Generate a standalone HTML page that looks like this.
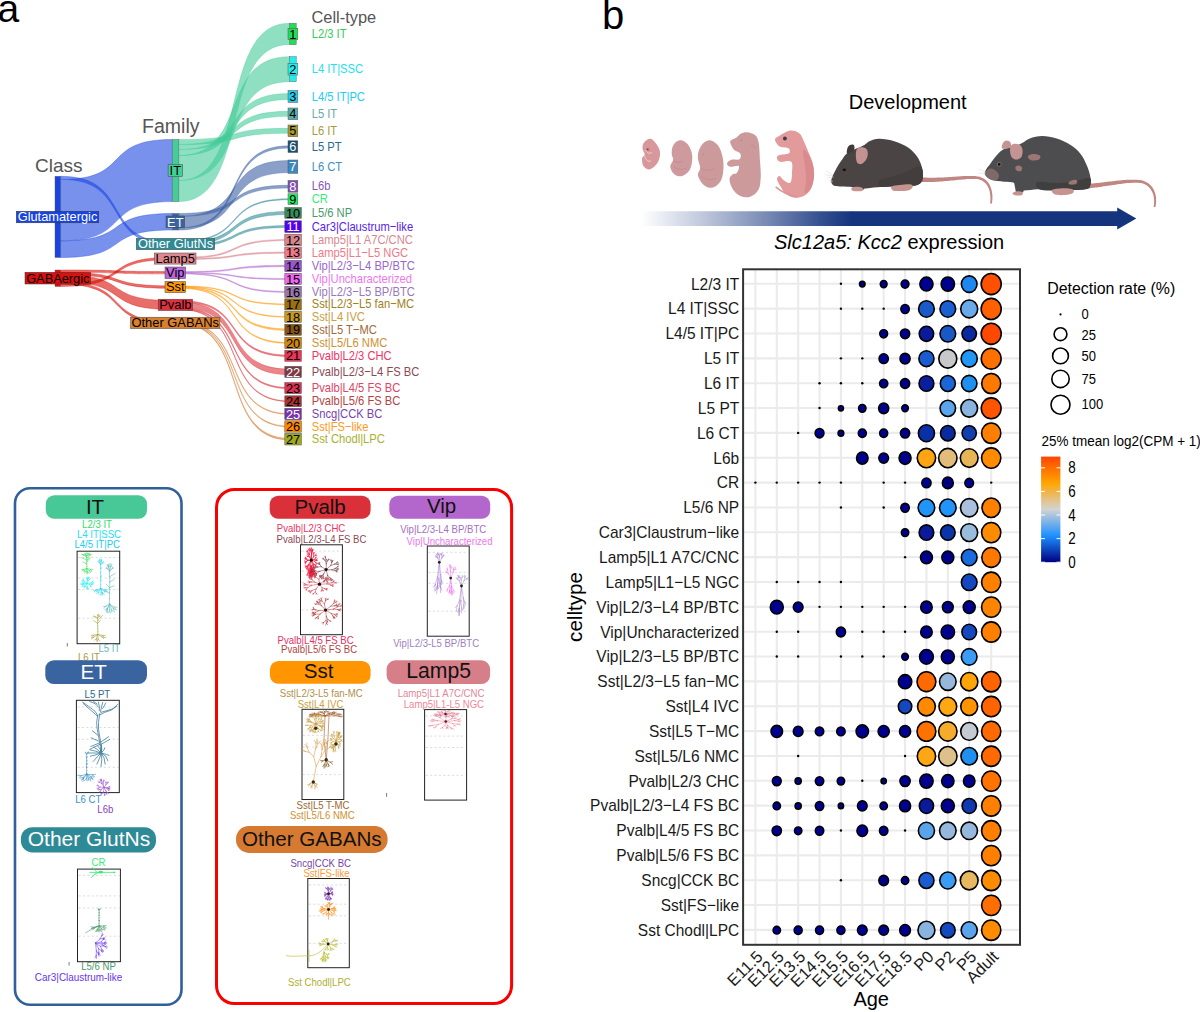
<!DOCTYPE html>
<html><head><meta charset="utf-8"><style>html,body{margin:0;padding:0;background:#fff;}svg{display:block;font-family:"Liberation Sans",sans-serif;}</style></head><body>
<svg width="1200" height="1012" viewBox="0 0 1200 1012">
<rect width="1200" height="1012" fill="#fff"/>
<text x="-2.4" y="22" font-size="39" fill="#000">a</text>
<text x="601.9" y="28.8" font-size="40" fill="#000">b</text>
<text x="907.7" y="109.4" font-size="20" text-anchor="middle" fill="#000">Development</text>
<defs><linearGradient id="arr" x1="641" y1="0" x2="852" y2="0" gradientUnits="userSpaceOnUse"><stop offset="0" stop-color="#14347E" stop-opacity="0"/><stop offset="0.3" stop-color="#14347E" stop-opacity="0.28"/><stop offset="0.6" stop-color="#14347E" stop-opacity="0.58"/><stop offset="0.85" stop-color="#14347E" stop-opacity="0.86"/><stop offset="1" stop-color="#14347E" stop-opacity="1"/></linearGradient></defs>
<path d="M641,211.2 H852 V226 H641 Z" fill="url(#arr)"/>
<path d="M851.5,211.2 H1117.2 V207.5 L1136.3,218.6 L1117.2,229.6 V226 H851.5 Z" fill="#14347E"/>
<text x="774" y="249.2" font-size="20" fill="#000"><tspan font-style="italic">Slc12a5: Kcc2</tspan> expression</text>
<path d="M650.0,138.8 C651.9,138.8 653.6,140.5 655.2,142.5 C656.9,144.5 659.1,147.9 659.8,150.8 C660.4,153.6 659.9,157.1 659.0,159.8 C658.1,162.4 656.2,164.9 654.5,166.5 C652.8,168.1 650.4,169.6 648.5,169.5 C646.6,169.4 644.3,167.6 643.2,165.8 C642.2,163.9 641.9,160.1 642.1,158.2 C642.4,156.4 644.7,156.1 644.8,154.5 C644.8,152.9 642.6,150.5 642.5,148.5 C642.4,146.5 642.8,144.1 644.0,142.5 C645.2,140.9 648.1,138.8 650.0,138.8 Z" fill="#D8979B"/>
<path d="M645.5,150 C647,153 649,154 652,152.5 M644.5,156 C646,160 648,162 651,161" stroke="#F0D0D2" stroke-width="1" fill="none"/>
<circle cx="647.7" cy="149.5" r="1.8" fill="#CF7C84"/><circle cx="647.8" cy="149.2" r="0.7" fill="#442"/>
<path d="M681.5,140.2 C683.4,140.6 685.8,142.0 687.5,144.0 C689.2,146.0 690.9,149.2 691.6,152.2 C692.4,155.2 692.4,158.9 692.0,162.0 C691.6,165.1 690.8,168.6 689.0,171.0 C687.2,173.4 684.0,175.8 681.5,176.2 C679.0,176.8 675.9,175.6 674.0,174.0 C672.1,172.4 670.4,168.9 670.2,166.5 C670.1,164.1 673.0,161.8 673.2,159.8 C673.5,157.8 671.9,156.6 671.8,154.5 C671.6,152.4 671.8,149.1 672.5,147.0 C673.2,144.9 674.8,142.9 676.2,141.8 C677.8,140.6 679.6,139.9 681.5,140.2 Z" fill="#CF9A9D"/>
<path d="M673.5,160 C676,163 680,163 683,161 M674,167 C678,170 683,170 686,168" stroke="#C28A8E" stroke-width="0.8" fill="none"/>
<path d="M710.0,140.2 C712.4,140.5 715.5,142.4 717.5,144.8 C719.5,147.1 721.0,150.9 722.0,154.5 C723.0,158.1 723.6,162.2 723.5,166.5 C723.4,170.8 723.0,176.5 721.2,180.0 C719.5,183.5 715.9,186.6 713.0,187.5 C710.1,188.4 706.5,187.2 704.0,185.2 C701.5,183.2 698.6,178.4 698.0,175.5 C697.4,172.6 700.2,170.8 700.2,168.0 C700.2,165.2 698.2,161.9 698.0,159.0 C697.8,156.1 697.9,153.4 698.8,150.8 C699.6,148.1 701.4,145.0 703.2,143.2 C705.1,141.5 707.6,140.0 710.0,140.2 Z" fill="#CD9A9C"/>
<path d="M700.5,168 C705,171 710,171 714,168 M701,176 C705,180 711,181 716,178" stroke="#C08A8E" stroke-width="0.8" fill="none"/>
<circle cx="703.5" cy="154.5" r="1.1" fill="#C08A8E"/>
<path d="M747.0,132.2 C749.4,132.5 753.3,133.5 755.3,135.2 C757.2,136.9 757.9,138.7 758.7,142.7 C759.5,146.7 759.6,153.8 759.9,159.3 C760.2,164.9 761.0,171.0 760.8,176.0 C760.5,181.0 760.4,185.8 758.7,189.3 C757.0,192.8 753.4,195.7 750.3,196.8 C747.2,197.9 743.2,197.2 740.3,196.0 C737.4,194.8 734.6,192.1 732.8,189.3 C731.0,186.5 729.5,181.8 729.5,179.3 C729.5,176.8 731.5,175.4 732.8,174.3 C734.0,173.2 736.0,174.1 737.0,172.7 C738.0,171.3 739.8,167.0 738.7,166.0 C737.6,165.0 732.2,167.2 730.3,166.8 C728.3,166.4 726.9,164.7 727.0,163.5 C727.1,162.3 729.1,160.4 731.2,159.8 C733.3,159.1 738.0,160.3 739.5,159.3 C741.0,158.3 741.1,155.0 740.3,153.5 C739.5,152.0 735.9,151.3 734.5,150.2 C733.1,149.1 732.7,148.3 732.0,146.8 C731.3,145.3 729.6,142.5 730.3,141.0 C731.0,139.5 734.4,138.9 736.2,137.7 C738.0,136.4 739.4,134.4 741.2,133.5 C743.0,132.6 744.6,132.0 747.0,132.2 Z" fill="#CD9A9C"/>
<circle cx="741.5" cy="140.5" r="1.1" fill="#B88A8E"/>
<path d="M751,144 C753,146 755,147 756,149" stroke="#B88A8E" stroke-width="0.7" fill="none"/>
<path d="M790.3,130.6 C793.5,130.3 797.1,131.5 799.5,133.5 C801.9,135.5 803.0,139.5 804.5,142.7 C806.0,145.9 807.3,149.2 808.7,152.7 C810.1,156.2 811.9,159.6 812.8,163.5 C813.7,167.4 814.4,171.8 814.1,176.0 C813.8,180.2 812.9,185.2 811.2,188.5 C809.5,191.8 806.5,194.5 803.7,196.0 C800.9,197.5 797.5,198.0 794.5,197.7 C791.5,197.4 788.4,195.9 786.0,194.0 C783.6,192.1 781.8,188.4 780.3,186.0 C778.8,183.6 777.1,181.0 777.0,179.3 C776.9,177.6 778.4,175.8 779.5,176.0 C780.6,176.2 781.9,179.1 783.7,180.2 C785.5,181.3 788.9,183.9 790.3,182.7 C791.7,181.4 791.9,176.2 792.0,172.7 C792.1,169.2 793.2,163.6 791.2,161.8 C789.2,160.0 782.7,162.4 780.3,161.8 C777.9,161.2 777.3,159.6 777.0,158.5 C776.7,157.4 776.8,156.0 778.7,155.2 C780.7,154.4 787.0,154.6 788.7,153.5 C790.4,152.4 790.1,149.6 788.7,148.5 C787.3,147.4 782.4,147.8 780.3,146.8 C778.2,145.8 777.0,144.1 776.2,142.7 C775.4,141.3 774.6,139.8 775.3,138.5 C776.0,137.2 777.8,136.5 780.3,135.2 C782.8,133.9 787.1,130.9 790.3,130.6 Z" fill="#E29A9B"/>
<path d="M803.0,150.0 C803.6,148.3 807.1,152.5 808.7,155.0 C810.3,157.5 811.9,161.5 812.8,165.0 C813.7,168.5 814.3,172.2 814.0,176.0 C813.7,179.8 812.5,185.2 811.0,188.0 C809.5,190.8 805.8,194.3 805.0,193.0 C804.2,191.7 806.0,184.7 806.0,180.0 C806.0,175.3 805.5,170.0 805.0,165.0 C804.5,160.0 802.4,151.7 803.0,150.0 Z" fill="#D98A8C"/>
<path d="M797,196.5 C790,195.5 782,192 776.2,187.3" stroke="#DD9496" stroke-width="1.6" fill="none" stroke-linecap="round"/>
<circle cx="784.9" cy="138.5" r="1.9" fill="#3A3A5A"/>
<path d="M919.8,181.8 L921.9,181.9 L923.9,182.0 L925.9,182.0 L928.0,182.0 L930.0,182.0 L932.0,181.9 L934.0,181.9 L936.0,181.8 L938.0,181.7 L939.9,181.5 L941.9,181.4 L943.8,181.2 L945.7,181.1 L947.6,180.9 L949.5,180.7 L951.4,180.5 L953.2,180.4 L955.1,180.2 L956.9,180.0 L958.7,179.8 L960.4,179.7 L962.1,179.5 L963.8,179.4 L965.5,179.3 L967.2,179.1 L968.8,179.1 L970.4,179.0 L971.9,178.9 L973.5,178.9 L974.9,178.9 L976.1,179.0 L977.3,179.1 L978.3,179.3 L979.4,179.6 L980.3,179.9 L981.3,180.3 L982.2,180.7 L983.0,181.2 L983.8,181.8 L984.5,182.4 L985.2,183.1 L985.9,183.8 L986.5,184.5 L987.1,185.3 L987.6,186.2 L988.1,187.1 L988.5,188.0 L988.9,189.0 L989.3,190.1 L989.6,191.1 L989.8,192.2 L990.0,193.4 L990.2,194.5 L990.3,195.7 L990.4,196.9 L990.4,198.2 L990.4,199.5 L990.4,200.7 L990.3,202.1 L990.1,203.4 L991.9,203.6 L992.1,202.3 L992.2,200.9 L992.4,199.5 L992.4,198.2 L992.4,196.9 L992.4,195.6 L992.3,194.3 L992.1,193.1 L991.9,191.8 L991.7,190.6 L991.4,189.4 L991.0,188.3 L990.6,187.2 L990.2,186.1 L989.7,185.1 L989.1,184.1 L988.5,183.1 L987.8,182.2 L987.0,181.3 L986.2,180.5 L985.4,179.8 L984.4,179.1 L983.5,178.5 L982.4,177.9 L981.3,177.4 L980.2,177.0 L979.0,176.6 L977.7,176.4 L976.4,176.2 L975.1,176.1 L973.5,176.0 L971.9,176.0 L970.3,176.0 L968.7,176.0 L967.0,176.0 L965.4,176.1 L963.6,176.1 L961.9,176.2 L960.2,176.3 L958.4,176.4 L956.6,176.5 L954.8,176.7 L952.9,176.8 L951.1,176.9 L949.2,177.0 L947.3,177.2 L945.5,177.3 L943.5,177.4 L941.6,177.5 L939.7,177.5 L937.8,177.6 L935.8,177.7 L933.9,177.7 L931.9,177.7 L930.0,177.7 L928.0,177.7 L926.1,177.6 L924.1,177.5 L922.1,177.4 L920.2,177.2 Z" fill="#C08682"/>
<path d="M831.1,181.6 C830.9,180.1 831.8,178.4 832.5,176.5 C833.2,174.6 834.4,172.3 835.5,170.2 C836.6,168.1 837.8,165.9 839.0,164.0 C840.2,162.1 841.2,160.6 842.5,158.9 C843.8,157.2 844.9,155.2 846.9,153.6 C848.9,152.0 851.8,150.6 854.7,149.2 C857.6,147.8 861.9,146.3 864.4,144.9 C866.9,143.5 867.5,142.0 870.0,141.0 C872.5,140.0 875.0,138.7 879.2,138.8 C883.4,138.8 890.2,139.9 895.0,141.4 C899.8,142.9 904.5,145.0 908.1,147.5 C911.8,150.0 914.7,153.3 916.9,156.2 C919.1,159.1 920.2,162.1 921.2,165.0 C922.2,167.9 923.0,170.8 923.0,173.7 C923.0,176.6 923.0,180.4 921.2,182.5 C919.5,184.6 917.5,185.3 912.5,186.0 C907.5,186.7 897.3,186.3 891.5,186.5 C885.7,186.7 882.4,186.9 877.5,187.2 C872.6,187.5 866.6,188.6 862.0,188.5 C857.4,188.4 853.7,187.1 850.0,186.8 C846.3,186.5 842.7,186.7 840.0,186.5 C837.3,186.3 835.2,186.3 833.7,185.5 C832.2,184.7 831.3,183.1 831.1,181.6 Z" fill="#4A4544"/>
<path d="M880.0,180.0 C882.5,178.2 890.0,177.7 895.0,176.0 C900.0,174.3 905.8,171.7 910.0,170.0 C914.2,168.3 917.8,165.3 920.0,166.0 C922.2,166.7 922.8,171.2 923.0,174.0 C923.2,176.8 922.8,180.5 921.0,182.5 C919.2,184.5 916.8,185.3 912.0,186.0 C907.2,186.7 897.3,186.4 892.0,186.5 C886.7,186.6 882.0,187.6 880.0,186.5 C878.0,185.4 877.5,181.8 880.0,180.0 Z" fill="#433E3D"/>
<path d="M847.2,153.5 C846.3,153.0 847.0,149.4 847.5,148.0 C848.0,146.6 849.0,145.5 850.0,145.0 C851.0,144.5 852.8,144.3 853.5,144.8 C854.2,145.3 854.6,147.0 854.5,148.0 C854.4,149.0 854.2,150.1 853.0,151.0 C851.8,151.9 848.1,154.0 847.2,153.5 Z" fill="#3E3A39"/>
<path d="M856.0,152.0 C856.2,150.4 856.6,149.3 857.5,148.5 C858.4,147.7 860.1,147.2 861.5,147.2 C862.9,147.2 865.0,147.5 866.0,148.5 C867.0,149.5 867.7,151.2 867.8,153.0 C867.9,154.8 867.5,157.2 866.5,159.0 C865.5,160.8 863.5,163.1 862.0,163.8 C860.5,164.5 858.5,164.0 857.5,163.0 C856.5,162.0 856.2,159.8 856.0,158.0 C855.8,156.2 855.8,153.6 856.0,152.0 Z" fill="#C29391"/>
<ellipse cx="844.3" cy="169.8" rx="1.7" ry="1.4" fill="#151212"/>
<path d="M857,182 L866,182 L864,189.5 L858,189.5 Z" fill="#4A4544"/>
<path d="M852.0,187.5 C853.0,186.9 856.2,186.7 858.0,186.8 C859.8,186.9 861.8,187.3 862.5,188.0 C863.2,188.7 863.6,190.2 862.5,190.8 C861.4,191.4 857.8,191.4 856.0,191.3 C854.2,191.2 852.7,191.1 852.0,190.5 C851.3,189.9 851.0,188.1 852.0,187.5 Z" fill="#C69490"/>
<path d="M891.5,186.5 C892.7,185.6 896.8,185.3 900.0,185.0 C903.2,184.7 908.9,184.1 911.0,184.5 C913.1,184.9 913.0,186.5 912.5,187.5 C912.0,188.5 910.2,189.9 908.0,190.5 C905.8,191.1 901.5,191.0 899.0,191.0 C896.5,191.0 894.2,191.2 893.0,190.5 C891.8,189.8 890.3,187.4 891.5,186.5 Z" fill="#C69490"/>
<circle cx="831.5" cy="181.4" r="1.1" fill="#C69490"/>
<path d="M833,175 L826,171 M833,176 L825,174.5 M834,177 L827,178" stroke="#ccc" stroke-width="0.4"/>
<path d="M1088.2,188.3 L1089.9,188.2 L1091.6,188.0 L1093.4,187.8 L1095.2,187.6 L1097.0,187.4 L1098.8,187.1 L1100.6,186.9 L1102.4,186.6 L1104.2,186.3 L1106.0,186.0 L1107.8,185.8 L1109.6,185.5 L1111.4,185.2 L1113.2,184.9 L1115.0,184.7 L1116.8,184.4 L1118.6,184.1 L1120.3,183.9 L1122.1,183.7 L1123.8,183.5 L1125.5,183.3 L1127.2,183.1 L1128.9,183.0 L1130.5,182.9 L1132.2,182.8 L1133.8,182.8 L1135.3,182.8 L1136.9,182.8 L1138.4,182.8 L1139.8,182.9 L1140.9,183.1 L1142.0,183.3 L1143.0,183.6 L1143.9,183.9 L1144.8,184.3 L1145.7,184.7 L1146.5,185.2 L1147.3,185.8 L1148.0,186.4 L1148.8,187.0 L1149.4,187.7 L1150.0,188.4 L1150.6,189.2 L1151.1,190.0 L1151.6,190.9 L1152.1,191.7 L1152.5,192.7 L1152.9,193.6 L1153.2,194.6 L1153.5,195.6 L1153.7,196.7 L1153.9,197.7 L1154.0,198.8 L1154.1,199.9 L1154.1,201.0 L1154.1,202.2 L1154.1,203.3 L1154.0,204.5 L1153.8,205.6 L1153.6,206.8 L1155.4,207.2 L1155.6,206.0 L1155.8,204.7 L1156.0,203.5 L1156.1,202.3 L1156.1,201.0 L1156.1,199.8 L1156.1,198.6 L1156.0,197.5 L1155.8,196.3 L1155.6,195.1 L1155.3,194.0 L1155.0,192.9 L1154.6,191.8 L1154.2,190.8 L1153.7,189.8 L1153.2,188.8 L1152.6,187.8 L1152.0,186.9 L1151.3,186.0 L1150.5,185.2 L1149.7,184.4 L1148.9,183.7 L1148.0,183.0 L1147.0,182.4 L1146.0,181.9 L1144.9,181.4 L1143.8,180.9 L1142.7,180.6 L1141.4,180.3 L1140.2,180.1 L1138.6,179.9 L1137.0,179.8 L1135.4,179.7 L1133.7,179.7 L1132.1,179.7 L1130.4,179.7 L1128.7,179.8 L1127.0,179.8 L1125.2,179.9 L1123.5,180.1 L1121.7,180.2 L1119.9,180.4 L1118.1,180.6 L1116.3,180.8 L1114.5,181.0 L1112.7,181.2 L1110.9,181.4 L1109.1,181.6 L1107.2,181.8 L1105.4,182.1 L1103.6,182.3 L1101.8,182.5 L1100.0,182.7 L1098.2,182.9 L1096.5,183.1 L1094.7,183.2 L1093.0,183.4 L1091.2,183.5 L1089.5,183.6 L1087.8,183.7 Z" fill="#C08682"/>
<path d="M985.3,175.0 C984.3,173.4 984.8,172.1 985.7,170.2 C986.6,168.3 988.6,166.1 990.5,163.5 C992.4,160.9 995.0,157.2 997.2,154.8 C999.5,152.4 1001.1,150.5 1004.0,149.1 C1006.9,147.7 1011.3,147.3 1014.5,146.2 C1017.7,145.1 1020.6,143.7 1023.1,142.4 C1025.7,141.1 1026.6,139.6 1029.8,138.5 C1033.0,137.4 1037.8,136.1 1042.3,136.1 C1046.8,136.1 1051.9,137.0 1056.7,138.5 C1061.5,140.0 1067.0,142.6 1071.0,145.2 C1075.0,147.8 1078.0,150.7 1080.6,153.9 C1083.2,157.1 1084.8,160.7 1086.4,164.4 C1088.0,168.1 1089.6,172.4 1090.2,175.9 C1090.8,179.4 1091.0,183.3 1090.2,185.5 C1089.4,187.7 1088.8,188.5 1085.4,189.3 C1082.0,190.1 1075.6,190.1 1070.0,190.3 C1064.4,190.5 1057.3,190.5 1051.9,190.3 C1046.5,190.1 1042.6,189.3 1037.5,189.3 C1032.4,189.3 1025.0,191.4 1021.2,190.3 C1017.4,189.2 1017.4,184.4 1014.5,183.0 C1011.6,181.6 1007.8,182.2 1004.0,181.7 C1000.2,181.1 994.6,180.8 991.5,179.7 C988.4,178.6 986.3,176.6 985.3,175.0 Z" fill="#4D4D4F"/>
<path d="M1037.5,182.0 C1040.8,180.9 1052.9,183.3 1060.0,183.0 C1067.1,182.7 1075.0,180.8 1080.0,180.0 C1085.0,179.2 1088.3,177.1 1090.0,178.0 C1091.7,178.9 1091.0,183.6 1090.2,185.5 C1089.4,187.4 1090.4,188.5 1085.4,189.3 C1080.4,190.1 1067.6,190.3 1060.0,190.3 C1052.4,190.3 1043.8,190.9 1040.0,189.5 C1036.2,188.1 1034.2,183.1 1037.5,182.0 Z" fill="#403F3F"/>
<path d="M985.3,175.0 C984.5,173.5 985.7,172.1 986.5,171.0 C987.3,169.9 988.6,168.7 990.0,168.5 C991.4,168.3 993.5,168.9 995.0,170.0 C996.5,171.1 998.7,173.4 999.0,175.0 C999.3,176.6 998.3,179.0 997.0,179.8 C995.7,180.6 993.0,180.6 991.0,179.8 C989.0,179.0 986.0,176.5 985.3,175.0 Z" fill="#7E6A68"/>
<path d="M1002.2,148.5 C1001.0,147.8 1002.3,144.3 1003.0,143.0 C1003.7,141.7 1005.2,140.6 1006.5,140.5 C1007.8,140.4 1009.9,141.3 1010.5,142.5 C1011.1,143.7 1011.6,146.5 1010.2,147.5 C1008.8,148.5 1003.4,149.2 1002.2,148.5 Z" fill="#C39491"/>
<path d="M1010.0,150.0 C1010.0,148.0 1010.5,146.0 1011.5,145.0 C1012.5,144.0 1014.4,143.6 1016.0,143.8 C1017.6,144.0 1019.9,144.7 1021.0,146.0 C1022.1,147.3 1022.6,149.6 1022.6,151.5 C1022.6,153.4 1022.1,156.2 1021.0,157.5 C1019.9,158.8 1017.6,159.7 1016.0,159.6 C1014.4,159.5 1012.5,158.6 1011.5,157.0 C1010.5,155.4 1010.0,152.0 1010.0,150.0 Z" fill="#C39491"/>
<ellipse cx="999.2" cy="164.4" rx="2.4" ry="2.1" fill="#8E7470"/><ellipse cx="999.2" cy="164.4" rx="1.5" ry="1.4" fill="#111"/>
<path d="M1028.0,156.0 C1028.7,155.2 1031.0,154.1 1033.0,154.0 C1035.0,153.9 1039.0,154.6 1040.0,155.5 C1041.0,156.4 1040.2,158.7 1039.0,159.5 C1037.8,160.3 1034.7,160.7 1033.0,160.6 C1031.3,160.5 1029.8,159.8 1029.0,159.0 C1028.2,158.2 1027.3,156.8 1028.0,156.0 Z" fill="#9C7672"/>
<path d="M1015.5,167.0 C1015.9,166.2 1017.9,165.3 1019.0,165.4 C1020.1,165.5 1021.7,166.6 1022.0,167.5 C1022.3,168.4 1021.9,170.5 1021.0,171.0 C1020.1,171.5 1017.4,171.2 1016.5,170.5 C1015.6,169.8 1015.1,167.8 1015.5,167.0 Z" fill="#9C7672"/>
<path d="M1068.6,182.5 C1069.1,181.8 1071.6,180.3 1073.0,180.0 C1074.4,179.7 1076.5,179.8 1077.0,180.5 C1077.5,181.2 1077.2,183.3 1076.0,184.0 C1074.8,184.7 1071.2,184.8 1070.0,184.5 C1068.8,184.2 1068.1,183.2 1068.6,182.5 Z" fill="#9C7672"/>
<path d="M1014,182 L1026,183 L1023,192.5 L1016,192.5 Z" fill="#4D4D4F"/>
<path d="M1012.6,193.0 C1012.9,192.3 1015.4,191.4 1017.0,191.2 C1018.6,191.0 1021.4,191.4 1022.2,192.0 C1023.0,192.6 1023.2,194.4 1022.0,195.0 C1020.8,195.6 1016.6,195.6 1015.0,195.3 C1013.4,195.0 1012.3,193.7 1012.6,193.0 Z" fill="#C69490"/>
<path d="M1051.9,190.0 C1052.7,189.0 1056.7,188.6 1060.0,188.4 C1063.3,188.2 1069.8,188.2 1072.0,189.0 C1074.2,189.8 1074.2,192.0 1073.0,193.0 C1071.8,194.0 1068.0,194.8 1065.0,195.0 C1062.0,195.2 1057.2,195.3 1055.0,194.5 C1052.8,193.7 1051.1,191.0 1051.9,190.0 Z" fill="#C69490"/>
<path d="M986,172 L979,169 M986,173 L978,173.5" stroke="#ccc" stroke-width="0.4"/>
<path d="M60.60,179.50 C133.21,179.50 99.69,139.50 172.30,139.50 L172.30,201.60 C99.69,201.60 133.21,240.80 60.60,240.80 Z" fill="#1A44E0" fill-opacity="0.59" stroke="#1A44E0" stroke-opacity="0.59" stroke-width="0.6"/>
<path d="M60.60,240.80 C133.21,240.80 99.69,213.50 172.30,213.50 L172.30,230.00 C99.69,230.00 133.21,257.50 60.60,257.50 Z" fill="#1A44E0" fill-opacity="0.59" stroke="#1A44E0" stroke-opacity="0.59" stroke-width="0.6"/>
<path d="M60.60,176.30 C133.21,176.30 99.69,242.50 172.30,242.50 L172.30,245.50 C99.69,245.50 133.21,179.30 60.60,179.30 Z" fill="#1A44E0" fill-opacity="0.59" stroke="#1A44E0" stroke-opacity="0.59" stroke-width="0.6"/>
<path d="M60.60,270.00 C133.21,270.00 99.69,271.60 172.30,271.60 L172.30,273.90 C99.69,273.90 133.21,272.30 60.60,272.30 Z" fill="#D80800" fill-opacity="0.59" stroke="#D80800" stroke-opacity="0.59" stroke-width="0.6"/>
<path d="M60.60,272.30 C133.21,272.30 99.69,285.90 172.30,285.90 L172.30,288.30 C99.69,288.30 133.21,274.70 60.60,274.70 Z" fill="#D80800" fill-opacity="0.59" stroke="#D80800" stroke-opacity="0.59" stroke-width="0.6"/>
<path d="M60.60,274.70 C133.21,274.70 99.69,300.60 172.30,300.60 L172.30,309.50 C99.69,309.50 133.21,282.00 60.60,282.00 Z" fill="#D80800" fill-opacity="0.59" stroke="#D80800" stroke-opacity="0.59" stroke-width="0.6"/>
<path d="M60.60,282.00 C133.21,282.00 99.69,321.80 172.30,321.80 L172.30,324.00 C99.69,324.00 133.21,284.20 60.60,284.20 Z" fill="#D80800" fill-opacity="0.59" stroke="#D80800" stroke-opacity="0.59" stroke-width="0.6"/>
<path d="M60.60,284.20 C133.21,284.20 99.69,257.30 172.30,257.30 L172.30,259.60 C99.69,259.60 133.21,286.50 60.60,286.50 Z" fill="#D80800" fill-opacity="0.59" stroke="#D80800" stroke-opacity="0.59" stroke-width="0.6"/>
<path d="M178.80,139.50 C250.75,139.50 217.55,128.35 289.50,128.35 L289.50,133.35 C217.55,133.35 250.75,144.50 178.80,144.50 Z" fill="#41CA98" fill-opacity="0.59" stroke="#41CA98" stroke-opacity="0.59" stroke-width="0.6"/>
<path d="M178.80,144.50 C250.75,144.50 217.55,111.35 289.50,111.35 L289.50,116.35 C217.55,116.35 250.75,149.50 178.80,149.50 Z" fill="#41CA98" fill-opacity="0.59" stroke="#41CA98" stroke-opacity="0.59" stroke-width="0.6"/>
<path d="M178.80,149.50 C250.75,149.50 217.55,93.50 289.50,93.50 L289.50,99.50 C217.55,99.50 250.75,155.50 178.80,155.50 Z" fill="#41CA98" fill-opacity="0.59" stroke="#41CA98" stroke-opacity="0.59" stroke-width="0.6"/>
<path d="M178.80,155.50 C250.75,155.50 217.55,56.70 289.50,56.70 L289.50,81.70 C217.55,81.70 250.75,180.50 178.80,180.50 Z" fill="#41CA98" fill-opacity="0.59" stroke="#41CA98" stroke-opacity="0.59" stroke-width="0.6"/>
<path d="M178.80,180.50 C250.75,180.50 217.55,23.30 289.50,23.30 L289.50,44.40 C217.55,44.40 250.75,201.60 178.80,201.60 Z" fill="#41CA98" fill-opacity="0.59" stroke="#41CA98" stroke-opacity="0.59" stroke-width="0.6"/>
<path d="M178.80,213.50 C250.75,213.50 217.55,185.30 289.50,185.30 L289.50,188.10 C217.55,188.10 250.75,216.30 178.80,216.30 Z" fill="#395EA2" fill-opacity="0.59" stroke="#395EA2" stroke-opacity="0.59" stroke-width="0.6"/>
<path d="M178.80,216.30 C250.75,216.30 217.55,160.50 289.50,160.50 L289.50,172.60 C217.55,172.60 250.75,227.80 178.80,227.80 Z" fill="#395EA2" fill-opacity="0.59" stroke="#395EA2" stroke-opacity="0.59" stroke-width="0.6"/>
<path d="M178.80,227.80 C250.75,227.80 217.55,145.80 289.50,145.80 L289.50,148.00 C217.55,148.00 250.75,230.00 178.80,230.00 Z" fill="#395EA2" fill-opacity="0.59" stroke="#395EA2" stroke-opacity="0.59" stroke-width="0.6"/>
<path d="M178.80,241.00 C250.75,241.00 217.55,198.70 289.50,198.70 L289.50,199.70 C217.55,199.70 250.75,242.00 178.80,242.00 Z" fill="#2E8A96" fill-opacity="0.59" stroke="#2E8A96" stroke-opacity="0.59" stroke-width="0.6"/>
<path d="M178.80,242.00 C250.75,242.00 217.55,211.50 289.50,211.50 L289.50,214.50 C217.55,214.50 250.75,245.00 178.80,245.00 Z" fill="#2E8A96" fill-opacity="0.59" stroke="#2E8A96" stroke-opacity="0.59" stroke-width="0.6"/>
<path d="M178.80,245.00 C250.75,245.00 217.55,225.50 289.50,225.50 L289.50,227.50 C217.55,227.50 250.75,247.00 178.80,247.00 Z" fill="#2E8A96" fill-opacity="0.59" stroke="#2E8A96" stroke-opacity="0.59" stroke-width="0.6"/>
<path d="M178.80,257.30 C250.75,257.30 217.55,239.40 289.50,239.40 L289.50,240.60 C217.55,240.60 250.75,258.50 178.80,258.50 Z" fill="#D77F89" fill-opacity="0.59" stroke="#D77F89" stroke-opacity="0.59" stroke-width="0.6"/>
<path d="M178.80,258.50 C250.75,258.50 217.55,252.05 289.50,252.05 L289.50,253.25 C217.55,253.25 250.75,259.60 178.80,259.60 Z" fill="#D77F89" fill-opacity="0.59" stroke="#D77F89" stroke-opacity="0.59" stroke-width="0.6"/>
<path d="M178.80,271.60 C250.75,271.60 217.55,265.30 289.50,265.30 L289.50,266.70 C217.55,266.70 250.75,272.50 178.80,272.50 Z" fill="#B366CC" fill-opacity="0.59" stroke="#B366CC" stroke-opacity="0.59" stroke-width="0.6"/>
<path d="M178.80,272.50 C250.75,272.50 217.55,278.50 289.50,278.50 L289.50,279.50 C217.55,279.50 250.75,273.20 178.80,273.20 Z" fill="#B366CC" fill-opacity="0.59" stroke="#B366CC" stroke-opacity="0.59" stroke-width="0.6"/>
<path d="M178.80,273.20 C250.75,273.20 217.55,291.40 289.50,291.40 L289.50,292.40 C217.55,292.40 250.75,273.90 178.80,273.90 Z" fill="#B366CC" fill-opacity="0.59" stroke="#B366CC" stroke-opacity="0.59" stroke-width="0.6"/>
<path d="M178.80,285.90 C250.75,285.90 217.55,304.00 289.50,304.00 L289.50,304.80 C217.55,304.80 250.75,286.40 178.80,286.40 Z" fill="#FF9500" fill-opacity="0.59" stroke="#FF9500" stroke-opacity="0.59" stroke-width="0.6"/>
<path d="M178.80,286.40 C250.75,286.40 217.55,316.50 289.50,316.50 L289.50,317.30 C217.55,317.30 250.75,286.90 178.80,286.90 Z" fill="#FF9500" fill-opacity="0.59" stroke="#FF9500" stroke-opacity="0.59" stroke-width="0.6"/>
<path d="M178.80,286.90 C250.75,286.90 217.55,328.95 289.50,328.95 L289.50,330.55 C217.55,330.55 250.75,287.80 178.80,287.80 Z" fill="#FF9500" fill-opacity="0.59" stroke="#FF9500" stroke-opacity="0.59" stroke-width="0.6"/>
<path d="M178.80,287.80 C250.75,287.80 217.55,342.45 289.50,342.45 L289.50,343.45 C217.55,343.45 250.75,288.30 178.80,288.30 Z" fill="#FF9500" fill-opacity="0.59" stroke="#FF9500" stroke-opacity="0.59" stroke-width="0.6"/>
<path d="M178.80,300.60 C250.75,300.60 217.55,355.10 289.50,355.10 L289.50,356.50 C217.55,356.50 250.75,302.00 178.80,302.00 Z" fill="#D9303A" fill-opacity="0.59" stroke="#D9303A" stroke-opacity="0.59" stroke-width="0.6"/>
<path d="M178.80,302.00 C250.75,302.00 217.55,369.10 289.50,369.10 L289.50,374.70 C217.55,374.70 250.75,307.60 178.80,307.60 Z" fill="#D9303A" fill-opacity="0.59" stroke="#D9303A" stroke-opacity="0.59" stroke-width="0.6"/>
<path d="M178.80,307.60 C250.75,307.60 217.55,387.50 289.50,387.50 L289.50,388.70 C217.55,388.70 250.75,308.80 178.80,308.80 Z" fill="#D9303A" fill-opacity="0.59" stroke="#D9303A" stroke-opacity="0.59" stroke-width="0.6"/>
<path d="M178.80,308.80 C250.75,308.80 217.55,400.90 289.50,400.90 L289.50,401.60 C217.55,401.60 250.75,309.50 178.80,309.50 Z" fill="#D9303A" fill-opacity="0.59" stroke="#D9303A" stroke-opacity="0.59" stroke-width="0.6"/>
<path d="M178.80,321.80 C250.75,321.80 217.55,413.60 289.50,413.60 L289.50,414.40 C217.55,414.40 250.75,322.40 178.80,322.40 Z" fill="#D57A30" fill-opacity="0.59" stroke="#D57A30" stroke-opacity="0.59" stroke-width="0.6"/>
<path d="M178.80,322.40 C250.75,322.40 217.55,426.10 289.50,426.10 L289.50,426.90 C217.55,426.90 250.75,323.00 178.80,323.00 Z" fill="#D57A30" fill-opacity="0.59" stroke="#D57A30" stroke-opacity="0.59" stroke-width="0.6"/>
<path d="M178.80,323.00 C250.75,323.00 217.55,438.35 289.50,438.35 L289.50,439.95 C217.55,439.95 250.75,324.00 178.80,324.00 Z" fill="#D57A30" fill-opacity="0.59" stroke="#D57A30" stroke-opacity="0.59" stroke-width="0.6"/>
<rect x="55" y="176.3" width="5.6" height="81.2" fill="#1A44E0" stroke="#555" stroke-width="0.4"/>
<rect x="55" y="270" width="5.6" height="16.5" fill="#DD1010" stroke="#555" stroke-width="0.4"/>
<rect x="172.3" y="139.5" width="6.5" height="62.1" fill="#44CC99" stroke="#666" stroke-width="0.5"/>
<rect x="172.3" y="213.5" width="6.5" height="16.5" fill="#3A64A0" stroke="#666" stroke-width="0.5"/>
<rect x="289.5" y="23.3" width="6.7" height="21.4" fill="#22DD55" stroke="#666" stroke-width="0.5"/>
<rect x="289.5" y="56.7" width="6.7" height="25" fill="#22EEEE" stroke="#666" stroke-width="0.5"/>
<text x="35" y="171.7" font-size="19" fill="#555">Class</text>
<text x="142.1" y="132.8" font-size="19.5" fill="#555">Family</text>
<text x="311.5" y="22.9" font-size="16.4" fill="#555">Cell-type</text>
<rect x="16.3" y="211.3" width="82.5" height="11.5" fill="#1A44E0" stroke="#333" stroke-width="0.5"/>
<text x="57.5" y="221.3" font-size="12.8" fill="#fff" text-anchor="middle">Glutamatergic</text>
<rect x="25" y="272.3" width="65.6" height="11.7" fill="#DD1010" stroke="#333" stroke-width="0.5"/>
<text x="57.8" y="282.6" font-size="12.8" fill="#000" text-anchor="middle">GABAergic</text>
<rect x="168.1" y="164.6" width="14.4" height="11.8" fill="#44CC99" stroke="#444" stroke-width="0.5"/>
<text x="175.3" y="175.1" font-size="12.9" fill="#000" text-anchor="middle">IT</text>
<rect x="166.0" y="216.0" width="18.6" height="11.8" fill="#3A64A0" stroke="#444" stroke-width="0.5"/>
<text x="175.3" y="226.5" font-size="12.9" fill="#fff" text-anchor="middle">ET</text>
<rect x="136.3" y="238.4" width="78.4" height="11.3" fill="#2E8A96" stroke="#444" stroke-width="0.5"/>
<text x="175.5" y="248.4" font-size="12.9" fill="#fff" text-anchor="middle">Other GlutNs</text>
<rect x="154.4" y="253.0" width="41.6" height="11.1" fill="#DD8890" stroke="#444" stroke-width="0.5"/>
<text x="175.2" y="262.8" font-size="12.9" fill="#000" text-anchor="middle">Lamp5</text>
<rect x="165.0" y="267.0" width="20.6" height="11.6" fill="#BB66DD" stroke="#444" stroke-width="0.5"/>
<text x="175.3" y="277.3" font-size="12.9" fill="#000" text-anchor="middle">Vip</text>
<rect x="165.0" y="281.5" width="20.6" height="11.2" fill="#FF9900" stroke="#444" stroke-width="0.5"/>
<text x="175.3" y="291.4" font-size="12.9" fill="#000" text-anchor="middle">Sst</text>
<rect x="158.2" y="299.2" width="34.5" height="11.4" fill="#DD3040" stroke="#444" stroke-width="0.5"/>
<text x="175.4" y="309.3" font-size="12.9" fill="#000" text-anchor="middle">Pvalb</text>
<rect x="130.6" y="317.2" width="89.3" height="11.4" fill="#D88030" stroke="#444" stroke-width="0.5"/>
<text x="175.2" y="327.3" font-size="12.9" fill="#000" text-anchor="middle">Other GABANs</text>
<rect x="288.0" y="28.3" width="9.8" height="11.4" fill="#22DD55" stroke="#555" stroke-width="0.5"/>
<text x="292.90" y="38.6" font-size="12.8" fill="#000" text-anchor="middle">1</text>
<text transform="translate(311.7,38.0) scale(1,1.16)" font-size="11.2" fill="#33CC55">L2/3 IT</text>
<rect x="288.0" y="63.3" width="9.8" height="11.7" fill="#22EEEE" stroke="#555" stroke-width="0.5"/>
<text x="292.90" y="73.8" font-size="12.8" fill="#000" text-anchor="middle">2</text>
<text transform="translate(311.7,73.2) scale(1,1.16)" font-size="11.2" fill="#22E0F0">L4 IT|SSC</text>
<rect x="288.0" y="90.5" width="9.8" height="12.0" fill="#22CCEE" stroke="#555" stroke-width="0.5"/>
<text x="292.90" y="101.1" font-size="12.8" fill="#000" text-anchor="middle">3</text>
<text transform="translate(311.7,100.5) scale(1,1.16)" font-size="11.2" fill="#22CCEE">L4/5 IT|PC</text>
<rect x="288.0" y="108.0" width="9.8" height="11.7" fill="#5AACAC" stroke="#555" stroke-width="0.5"/>
<text x="292.90" y="118.4" font-size="12.8" fill="#000" text-anchor="middle">4</text>
<text transform="translate(311.7,117.8) scale(1,1.16)" font-size="11.2" fill="#66AAAA">L5 IT</text>
<rect x="288.0" y="125.0" width="9.8" height="11.7" fill="#A89A30" stroke="#555" stroke-width="0.5"/>
<text x="292.90" y="135.4" font-size="12.8" fill="#000" text-anchor="middle">5</text>
<text transform="translate(311.7,134.8) scale(1,1.16)" font-size="11.2" fill="#A89A40">L6 IT</text>
<rect x="288.0" y="140.8" width="9.8" height="11.7" fill="#1A5070" stroke="#555" stroke-width="0.5"/>
<text x="292.90" y="151.2" font-size="12.8" fill="#fff" text-anchor="middle">6</text>
<text transform="translate(311.7,150.7) scale(1,1.16)" font-size="11.2" fill="#2A6A8C">L5 PT</text>
<rect x="288.0" y="160.0" width="9.8" height="13.3" fill="#3A8AC0" stroke="#555" stroke-width="0.5"/>
<text x="292.90" y="171.2" font-size="12.8" fill="#fff" text-anchor="middle">7</text>
<text transform="translate(311.7,170.7) scale(1,1.16)" font-size="11.2" fill="#3A90C8">L6 CT</text>
<rect x="288.0" y="180.5" width="9.8" height="11.7" fill="#8050B0" stroke="#555" stroke-width="0.5"/>
<text x="292.90" y="190.9" font-size="12.8" fill="#fff" text-anchor="middle">8</text>
<text transform="translate(311.7,190.3) scale(1,1.16)" font-size="11.2" fill="#8855BB">L6b</text>
<rect x="288.0" y="193.8" width="9.8" height="10.7" fill="#22EE66" stroke="#555" stroke-width="0.5"/>
<text x="292.90" y="203.8" font-size="12.8" fill="#000" text-anchor="middle">9</text>
<text transform="translate(311.7,203.2) scale(1,1.16)" font-size="11.2" fill="#33EE77">CR</text>
<rect x="284.8" y="207.5" width="16.6" height="10.8" fill="#3A8A5A" stroke="#555" stroke-width="0.5"/>
<text x="293.10" y="217.5" font-size="12.8" fill="#000" text-anchor="middle">10</text>
<text transform="translate(311.7,216.9) scale(1,1.16)" font-size="11.2" fill="#4A9A6A">L5/6 NP</text>
<rect x="284.8" y="220.8" width="16.6" height="11.7" fill="#5500EE" stroke="#555" stroke-width="0.5"/>
<text x="293.10" y="231.2" font-size="12.8" fill="#fff" text-anchor="middle">11</text>
<text transform="translate(311.7,230.7) scale(1,1.16)" font-size="11.2" fill="#5522EE">Car3|Claustrum−like</text>
<rect x="284.8" y="234.2" width="16.6" height="11.6" fill="#D8848C" stroke="#555" stroke-width="0.5"/>
<text x="293.10" y="244.6" font-size="12.8" fill="#000" text-anchor="middle">12</text>
<text transform="translate(311.7,244.0) scale(1,1.16)" font-size="11.2" fill="#D88890">Lamp5|L1 A7C/CNC</text>
<rect x="284.8" y="247.0" width="16.6" height="11.3" fill="#F07888" stroke="#555" stroke-width="0.5"/>
<text x="293.10" y="257.2" font-size="12.8" fill="#000" text-anchor="middle">13</text>
<text transform="translate(311.7,256.6) scale(1,1.16)" font-size="11.2" fill="#F07888">Lamp5|L1−L5 NGC</text>
<rect x="284.8" y="260.3" width="16.6" height="11.4" fill="#9955CC" stroke="#555" stroke-width="0.5"/>
<text x="293.10" y="270.6" font-size="12.8" fill="#000" text-anchor="middle">14</text>
<text transform="translate(311.7,270.0) scale(1,1.16)" font-size="11.2" fill="#9966CC">Vip|L2/3−L4 BP/BTC</text>
<rect x="284.8" y="273.3" width="16.6" height="11.4" fill="#EE66EE" stroke="#555" stroke-width="0.5"/>
<text x="293.10" y="283.6" font-size="12.8" fill="#000" text-anchor="middle">15</text>
<text transform="translate(311.7,283.0) scale(1,1.16)" font-size="11.2" fill="#EE77EE">Vip|Uncharacterized</text>
<rect x="284.8" y="286.3" width="16.6" height="11.2" fill="#9977AA" stroke="#555" stroke-width="0.5"/>
<text x="293.10" y="296.5" font-size="12.8" fill="#000" text-anchor="middle">16</text>
<text transform="translate(311.7,295.9) scale(1,1.16)" font-size="11.2" fill="#9977BB">Vip|L2/3−L5 BP/BTC</text>
<rect x="284.8" y="298.8" width="16.6" height="11.2" fill="#9A7010" stroke="#555" stroke-width="0.5"/>
<text x="293.10" y="309.0" font-size="12.8" fill="#000" text-anchor="middle">17</text>
<text transform="translate(311.7,308.4) scale(1,1.16)" font-size="11.2" fill="#A08020">Sst|L2/3−L5 fan−MC</text>
<rect x="284.8" y="311.3" width="16.6" height="11.2" fill="#C89A20" stroke="#555" stroke-width="0.5"/>
<text x="293.10" y="321.5" font-size="12.8" fill="#000" text-anchor="middle">18</text>
<text transform="translate(311.7,320.9) scale(1,1.16)" font-size="11.2" fill="#C8A040">Sst|L4 IVC</text>
<rect x="284.8" y="324.2" width="16.6" height="11.1" fill="#865418" stroke="#555" stroke-width="0.5"/>
<text x="293.10" y="334.4" font-size="12.8" fill="#000" text-anchor="middle">19</text>
<text transform="translate(311.7,333.8) scale(1,1.16)" font-size="11.2" fill="#A06A38">Sst|L5 T−MC</text>
<rect x="284.8" y="337.2" width="16.6" height="11.5" fill="#D08810" stroke="#555" stroke-width="0.5"/>
<text x="293.10" y="347.6" font-size="12.8" fill="#000" text-anchor="middle">20</text>
<text transform="translate(311.7,346.9) scale(1,1.16)" font-size="11.2" fill="#D09030">Sst|L5/L6 NMC</text>
<rect x="284.8" y="350.3" width="16.6" height="11.0" fill="#EE3355" stroke="#555" stroke-width="0.5"/>
<text x="293.10" y="360.4" font-size="12.8" fill="#000" text-anchor="middle">21</text>
<text transform="translate(311.7,359.8) scale(1,1.16)" font-size="11.2" fill="#EE3366">Pvalb|L2/3 CHC</text>
<rect x="284.8" y="366.3" width="16.6" height="11.2" fill="#7A3A45" stroke="#555" stroke-width="0.5"/>
<text x="293.10" y="376.5" font-size="12.8" fill="#fff" text-anchor="middle">22</text>
<text transform="translate(311.7,375.9) scale(1,1.16)" font-size="11.2" fill="#8A4A55">Pvalb|L2/3−L4 FS BC</text>
<rect x="284.8" y="382.5" width="16.6" height="11.2" fill="#DD3355" stroke="#555" stroke-width="0.5"/>
<text x="293.10" y="392.7" font-size="12.8" fill="#000" text-anchor="middle">23</text>
<text transform="translate(311.7,392.1) scale(1,1.16)" font-size="11.2" fill="#DD4466">Pvalb|L4/5 FS BC</text>
<rect x="284.8" y="395.8" width="16.6" height="10.9" fill="#AA3333" stroke="#555" stroke-width="0.5"/>
<text x="293.10" y="405.9" font-size="12.8" fill="#000" text-anchor="middle">24</text>
<text transform="translate(311.7,405.2) scale(1,1.16)" font-size="11.2" fill="#B04444">Pvalb|L5/6 FS BC</text>
<rect x="284.8" y="408.3" width="16.6" height="11.4" fill="#7733AA" stroke="#555" stroke-width="0.5"/>
<text x="293.10" y="418.6" font-size="12.8" fill="#fff" text-anchor="middle">25</text>
<text transform="translate(311.7,418.0) scale(1,1.16)" font-size="11.2" fill="#7744AA">Sncg|CCK BC</text>
<rect x="284.8" y="420.8" width="16.6" height="11.4" fill="#FF8800" stroke="#555" stroke-width="0.5"/>
<text x="293.10" y="431.1" font-size="12.8" fill="#000" text-anchor="middle">26</text>
<text transform="translate(311.7,430.5) scale(1,1.16)" font-size="11.2" fill="#FF9922">Sst|FS−like</text>
<rect x="284.8" y="433.3" width="16.6" height="11.7" fill="#A0A820" stroke="#555" stroke-width="0.5"/>
<text x="293.10" y="443.8" font-size="12.8" fill="#000" text-anchor="middle">27</text>
<text transform="translate(311.7,443.1) scale(1,1.16)" font-size="11.2" fill="#A8B030">Sst Chodl|LPC</text>
<rect x="15.0" y="488.2" width="166.5" height="516.5" rx="15" fill="none" stroke="#30609A" stroke-width="2.6"/>
<rect x="45.8" y="495.3" width="101.2" height="23.5" rx="8.6" fill="#48C896"/><text x="95.0" y="513.9" font-size="20.5" fill="#111" text-anchor="middle">IT</text>
<text transform="translate(97.0,527.9) scale(1,1.16)" font-size="9.6" fill="#33DD66" text-anchor="middle">L2/3 IT</text>
<text transform="translate(99.0,537.5) scale(1,1.16)" font-size="9.6" fill="#22E0F0" text-anchor="middle">L4 IT|SSC</text>
<text transform="translate(97.2,547.7) scale(1,1.16)" font-size="9.6" fill="#22CCF0" text-anchor="middle">L4/5 IT|PC</text>
<line x1="78.1" y1="557.5" x2="118.7" y2="557.5" stroke="#D4D4D4" stroke-width="0.8" stroke-dasharray="2.2,2.2"/>
<line x1="78.1" y1="578.0" x2="118.7" y2="578.0" stroke="#D4D4D4" stroke-width="0.8" stroke-dasharray="2.2,2.2"/>
<line x1="78.1" y1="589.5" x2="118.7" y2="589.5" stroke="#D4D4D4" stroke-width="0.8" stroke-dasharray="2.2,2.2"/>
<line x1="78.1" y1="618.2" x2="118.7" y2="618.2" stroke="#D4D4D4" stroke-width="0.8" stroke-dasharray="2.2,2.2"/>
<rect x="77.1" y="551.2" width="42.6" height="92.5" fill="none" stroke="#222" stroke-width="1"/>
<path d="M86.6,568.5L87.0,566.4M87.0,566.4L86.7,564.2M86.8,564.2L82.8,561.9M86.6,564.2L86.5,562.1M86.8,562.1L90.5,557.7M86.8,562.1L86.9,560.0M86.8,560.0L81.0,557.5M86.8,560.0L89.6,558.1M87.1,560.0L86.7,557.8M86.8,557.8L83.8,554.3M86.8,557.8L90.6,555.2M86.6,557.8L86.6,555.7M86.8,555.7L83.7,555.0M83.7,555.0L82.0,554.3M83.7,555.0L82.0,554.8M86.8,555.7L85.5,554.3M85.5,554.3L85.6,553.3M85.5,554.3L84.3,553.5M86.8,555.7L87.0,553.8M87.0,553.8L87.7,552.8M87.0,553.8L86.6,552.9M86.8,555.7L88.3,554.3M88.3,554.3L89.7,553.6M88.3,554.3L88.7,553.4M86.8,555.7L89.6,554.8M89.6,554.8L91.2,554.6M89.6,554.8L90.7,554.0M86.8,568.5L90.3,569.4M90.3,569.4L91.9,570.7M90.3,569.4L92.4,569.3M86.8,568.5L89.4,570.6M89.4,570.6L90.5,572.4M89.4,570.6L91.6,571.3M86.8,568.5L87.6,571.9M87.6,571.9L87.3,573.8M87.6,571.9L89.3,573.3M86.8,568.5L86.0,571.5M86.0,571.5L84.7,572.9M86.0,571.5L86.6,573.2M86.8,568.5L84.6,570.6M84.6,570.6L82.6,571.0M84.6,570.6L84.1,572.0M86.8,568.5L83.8,569.4M83.8,569.4L81.8,569.4M83.8,569.4L82.2,570.2" stroke="#44DD66" stroke-width="0.6" fill="none" stroke-linecap="round"/>
<path d="M86.8,583.6L87.2,580.2M87.2,580.2L88.4,578.3M88.4,578.3L89.5,577.7M88.4,578.3L88.4,577.0M87.2,580.2L87.0,578.3M87.0,578.3L87.6,577.1M87.0,578.3L86.4,577.5M86.8,583.6L88.0,580.9M88.0,580.9L89.4,579.6M89.4,579.6L90.4,579.1M89.4,579.6L89.9,578.7M88.0,580.9L87.6,579.1M87.6,579.1L88.1,578.0M87.6,579.1L86.9,578.1M86.8,583.6L90.2,583.2M90.2,583.2L92.4,583.4M92.4,583.4L93.6,583.9M92.4,583.4L93.6,582.8M90.2,583.2L92.2,582.0M92.2,582.0L93.6,581.9M92.2,582.0L92.8,580.8M86.8,583.6L89.8,584.7M89.8,584.7L90.6,586.2M90.6,586.2L90.8,587.3M90.6,586.2L91.4,586.8M89.8,584.7L91.5,584.5M91.5,584.5L92.6,585.0M91.5,584.5L92.6,584.3M86.8,583.6L87.0,586.3M87.0,586.3L86.9,587.9M86.9,587.9L86.5,589.0M86.9,587.9L87.3,588.9M87.0,586.3L87.8,587.9M87.8,587.9L87.8,588.7M87.8,587.9L88.6,588.6M86.8,583.6L85.3,585.6M85.3,585.6L84.2,586.4M84.2,586.4L83.6,586.7M84.2,586.4L83.9,587.0M85.3,585.6L85.0,586.8M85.0,586.8L84.5,587.4M85.0,586.8L85.0,587.4M86.8,583.6L83.7,584.5M83.7,584.5L81.6,584.1M81.6,584.1L80.7,583.5M81.6,584.1L80.6,584.4M83.7,584.5L82.7,585.8M82.7,585.8L81.9,586.3M82.7,585.8L82.6,586.6M86.8,583.6L84.3,583.2M84.3,583.2L83.1,582.9M83.1,582.9L82.7,582.4M83.1,582.9L82.3,582.8M84.3,583.2L83.1,583.8M83.1,583.8L82.3,583.9M83.1,583.8L82.7,584.5M86.8,583.6L84.5,581.7M84.5,581.7L83.6,580.2M83.6,580.2L83.5,579.3M83.6,580.2L82.9,579.6M84.5,581.7L82.9,581.0M82.9,581.0L82.4,580.3M82.9,581.0L81.8,581.2" stroke="#33EEEE" stroke-width="0.55" fill="none" stroke-linecap="round"/>
<path d="M100.5,588.5L100.7,584.5M100.6,584.5L100.8,580.5M100.7,580.5L101.4,580.2M100.6,580.5L100.5,576.5M100.7,576.5L101.8,575.7M100.8,576.5L100.5,572.5M100.7,572.5L100.8,568.5M100.7,568.5L101.8,567.8M100.6,568.5L100.4,564.5M100.7,564.5L99.2,562.4M99.2,562.4L98.7,560.5M99.2,562.4L98.0,561.7M100.7,564.5L100.0,560.9M100.0,560.9L100.1,558.9M100.0,560.9L99.2,559.0M100.7,564.5L101.3,561.4M101.3,561.4L102.1,560.1M101.3,561.4L101.4,559.2M100.7,564.5L102.6,562.9M102.6,562.9L104.0,563.2M102.6,562.9L103.5,561.2M100.7,588.5L105.1,589.7M105.1,589.7L107.3,591.5M105.1,589.7L108.1,589.8M100.7,588.5L104.0,590.8M104.0,590.8L104.8,592.4M104.0,590.8L106.5,591.5M100.7,588.5L102.4,592.8M102.4,592.8L102.0,595.3M102.4,592.8L104.3,594.3M100.7,588.5L101.2,592.6M101.2,592.6L100.7,595.2M101.2,592.6L103.1,594.8M100.7,588.5L98.7,592.0M98.7,592.0L96.5,593.5M98.7,592.0L99.1,594.3M100.7,588.5L97.5,590.8M97.5,590.8L95.1,590.9M97.5,590.8L96.0,592.3M100.7,588.5L96.3,589.9M96.3,589.9L93.5,590.3M96.3,589.9L94.6,591.6" stroke="#33D4EE" stroke-width="0.6" fill="none" stroke-linecap="round"/>
<path d="M109.4,604.0L109.4,598.5M109.5,598.5L109.4,593.1M109.6,593.1L104.5,590.9M109.8,593.1L109.4,587.6M109.6,587.6L106.0,584.0M109.6,587.6L114.1,585.8M109.8,587.6L109.8,582.1M109.6,582.1L114.0,579.4M109.7,582.1L109.8,576.7M109.6,576.7L115.1,573.5M109.6,576.7L109.4,571.2M109.6,571.2L107.4,568.9M107.4,568.9L106.4,567.0M107.4,568.9L105.9,568.4M109.6,571.2L108.3,567.0M108.3,567.0L108.0,564.4M108.3,567.0L106.8,565.0M109.6,571.2L109.0,566.5M109.0,566.5L109.3,563.7M109.0,566.5L108.0,564.4M109.6,571.2L110.8,566.7M110.8,566.7L112.1,564.3M110.8,566.7L110.8,563.5M109.6,571.2L112.0,568.9M112.0,568.9L113.4,568.2M112.0,568.9L112.8,566.9M109.6,604.0L113.9,607.0M113.9,607.0L116.4,610.0M113.9,607.0L117.2,607.2M109.6,604.0L113.3,608.6M113.3,608.6L114.4,612.1M113.3,608.6L115.7,609.5M109.6,604.0L111.3,609.3M111.3,609.3L111.2,612.3M111.3,609.3L112.8,611.5M109.6,604.0L109.4,610.0M109.4,610.0L108.7,612.8M109.4,610.0L110.3,612.8M109.6,604.0L107.5,608.8M107.5,608.8L105.9,611.1M107.5,608.8L107.4,612.7M109.6,604.0L107.0,608.7M107.0,608.7L104.9,609.6M107.0,608.7L106.7,612.1M109.6,604.0L106.1,606.2M106.1,606.2L103.5,606.6M106.1,606.2L103.9,608.3" stroke="#66BBBB" stroke-width="0.6" fill="none" stroke-linecap="round"/>
<path d="M97.8,634.5L97.8,631.7M97.9,631.7L98.0,628.9M97.4,628.9L97.7,626.1M97.9,626.1L97.5,623.3M97.7,623.3L93.7,620.6M97.7,623.3L100.5,620.6M97.6,623.3L97.9,620.5M97.7,620.5L102.5,615.5M97.8,620.5L97.5,617.7M97.7,617.7L95.3,616.9M95.3,616.9L94.0,615.7M95.3,616.9L93.6,616.7M97.7,617.7L98.0,615.6M98.0,615.6L98.7,614.3M98.0,615.6L97.7,614.5M97.7,617.7L99.2,616.4M99.2,616.4L100.1,616.2M99.2,616.4L99.9,615.6M97.7,634.5L102.3,635.4M102.3,635.4L103.8,636.8M102.3,635.4L105.3,635.6M97.7,634.5L102.2,637.0M102.2,637.0L103.7,638.7M102.2,637.0L105.9,637.8M97.7,634.5L98.1,639.0M98.1,639.0L97.6,641.4M98.1,639.0L99.9,640.8M97.7,634.5L96.4,638.8M96.4,638.8L94.3,640.2M96.4,638.8L97.0,641.7M97.7,634.5L93.8,637.1M93.8,637.1L91.4,638.0M93.8,637.1L91.7,639.0M97.7,634.5L93.5,635.3M93.5,635.3L91.1,635.3M93.5,635.3L91.6,636.9" stroke="#A8A040" stroke-width="0.6" fill="none" stroke-linecap="round"/>
<text transform="translate(109.3,652.4) scale(1,1.16)" font-size="9.6" fill="#66B8B8" text-anchor="middle">L5 IT</text>
<text transform="translate(88.9,660.5) scale(1,1.16)" font-size="9.6" fill="#A89A40" text-anchor="middle">L6 IT</text>
<line x1="67.3" y1="643" x2="67.3" y2="646.5" stroke="#444" stroke-width="0.7"/>
<rect x="45.3" y="660.3" width="101.7" height="23.7" rx="8.6" fill="#3A64A0"/><text x="93.6" y="679.2" font-size="20.5" fill="#fff" text-anchor="middle">ET</text>
<text transform="translate(97.4,697.8) scale(1,1.16)" font-size="9.6" fill="#2A6A8A" text-anchor="middle">L5 PT</text>
<line x1="77.4" y1="707.0" x2="118.3" y2="707.0" stroke="#D4D4D4" stroke-width="0.8" stroke-dasharray="2.2,2.2"/>
<line x1="77.4" y1="727.5" x2="118.3" y2="727.5" stroke="#D4D4D4" stroke-width="0.8" stroke-dasharray="2.2,2.2"/>
<line x1="77.4" y1="739.3" x2="118.3" y2="739.3" stroke="#D4D4D4" stroke-width="0.8" stroke-dasharray="2.2,2.2"/>
<line x1="77.4" y1="767.3" x2="118.3" y2="767.3" stroke="#D4D4D4" stroke-width="0.8" stroke-dasharray="2.2,2.2"/>
<rect x="76.4" y="700.3" width="42.9" height="92.3" fill="none" stroke="#222" stroke-width="1"/>
<path d="M82.5,702.0 L88.5,706.3 L95.0,711.2 L97.7,715.5 M83.3,703.6 L90.7,710.1 L95.5,714.5 L97.2,716.1 M117.8,704.1 L113.5,708.5 L107.0,710.7 L101.0,712.3 L99.1,714.5 M116.7,706.3 L111.3,710.1 L104.8,712.3 L99.9,715.0 M89.6,701.4 L95.0,703.6 L98.8,707.4 M98.3,702.0 L99.3,706.3 L99.3,710.7 M102.6,702.5 L101.5,707.4 L100.4,711.7 M105.9,703.0 L102.6,708.5 M92.8,700.9 L97.2,704.1 M97.7,715.5 L96.6,722.6 L97.2,729.1 L98.8,737.8 L100.4,746.5 L101.0,753.0 M99.6,714.5 L98.5,722.6 L98.5,729.1 L99.9,737.8 L101.5,746.5 L101.5,752.5 M92.3,730.8 L97.7,735.1 M91.2,737.8 L98.5,741.1 M90.7,746.5 L99.3,743.0 M90.1,749.2 L99.9,744.3 M108.6,736.7 L100.2,742.4 M109.7,739.5 L101.0,744.3 M101.0,753.0 L101.8,748.5 L101.0,744.8 M101.0,753.0 L100.1,749.2 L97.8,746.1 M101.0,753.0 L97.8,749.8 L93.7,747.2 M101.0,753.0 L95.7,751.2 L89.7,749.8 M101.0,753.0 L94.7,753.0 L87.9,753.0 M101.0,753.0 L95.9,754.8 L90.3,756.2 M101.0,753.0 L97.6,756.4 L93.3,761.4 M101.0,753.0 L99.6,758.0 L96.9,764.2 M101.0,753.0 L101.8,759.3 L101.0,766.5 M101.0,753.0 L104.1,758.0 L105.1,764.2 M101.0,753.0 L105.7,756.1 L107.9,760.8 M101.0,753.0 L106.3,754.4 L109.1,755.4 M101.0,753.0 L103.9,750.1 L104.8,747.8" stroke="#2A6E8C" stroke-width="0.7" fill="none" stroke-linecap="round" stroke-linejoin="round"/>
<circle cx="101" cy="753" r="1.6" fill="#4A8AA8"/>
<path d="M86.7,774.1L86.6,770.8M86.9,770.8L86.5,767.4M86.8,767.4L86.4,767.0M86.8,767.4L87.1,767.2M86.5,767.4L86.6,764.1M86.8,764.1L86.3,763.5M86.8,764.1L87.4,763.8M86.8,764.1L86.7,760.8M86.8,760.8L87.4,760.3M86.6,760.8L86.6,757.4M86.8,757.4L86.3,756.9M86.8,757.4L87.3,757.0M86.8,757.4L86.5,754.1M86.8,754.1L85.9,753.0M85.9,753.0L85.5,752.1M85.9,753.0L85.3,752.8M86.8,754.1L87.7,753.0M87.7,753.0L88.4,752.9M87.7,753.0L88.2,751.7M86.8,774.1L92.2,774.8M92.2,774.8L94.3,776.3M92.2,774.8L95.5,774.3M86.8,774.1L91.2,776.8M91.2,776.8L92.6,779.3M91.2,776.8L94.3,777.0M86.8,774.1L90.0,777.9M90.0,777.9L90.6,781.0M90.0,777.9L93.2,779.1M86.8,774.1L88.1,777.9M88.1,777.9L88.2,780.5M88.1,777.9L89.2,780.0M86.8,774.1L86.4,778.5M86.4,778.5L84.3,780.7M86.4,778.5L87.2,780.9M86.8,774.1L83.6,778.4M83.6,778.4L81.2,780.1M83.6,778.4L82.9,781.5M86.8,774.1L83.4,777.3M83.4,777.3L80.2,778.1M83.4,777.3L82.2,779.7M86.8,774.1L81.3,775.7M81.3,775.7L77.7,775.2M81.3,775.7L79.2,777.4" stroke="#3A90C0" stroke-width="0.6" fill="none" stroke-linecap="round"/>
<path d="M104.1,787.5L103.1,783.1M103.1,783.1L103.7,781.0M103.7,781.0L104.6,780.3M103.7,781.0L103.6,779.7M103.1,783.1L101.6,780.6M101.6,780.6L101.4,779.2M101.6,780.6L100.2,779.4M104.1,787.5L106.1,784.6M106.1,784.6L107.4,783.0M107.4,783.0L108.5,782.6M107.4,783.0L108.0,781.7M106.1,784.6L106.0,782.8M106.0,782.8L106.5,781.8M106.0,782.8L105.5,781.8M104.1,787.5L107.5,787.5M107.5,787.5L108.9,788.6M108.9,788.6L109.6,789.5M108.9,788.6L110.0,788.6M107.5,787.5L109.2,786.9M109.2,786.9L110.0,787.2M109.2,786.9L110.0,786.1M104.1,787.5L107.0,788.6M107.0,788.6L108.3,789.8M108.3,789.8L108.8,790.9M108.3,789.8L109.2,790.2M107.0,788.6L108.6,788.4M108.6,788.4L109.3,788.6M108.6,788.4L109.3,787.9M104.1,787.5L105.8,790.8M105.8,790.8L106.2,793.1M106.2,793.1L106.1,794.2M106.2,793.1L106.7,794.2M105.8,790.8L107.4,792.5M107.4,792.5L108.1,793.4M107.4,792.5L108.7,793.0M104.1,787.5L103.5,792.0M103.5,792.0L101.8,793.4M101.8,793.4L100.4,794.1M101.8,793.4L101.6,794.8M103.5,792.0L104.5,794.3M104.5,794.3L104.3,795.8M104.5,794.3L105.2,795.4M104.1,787.5L101.4,789.3M101.4,789.3L99.4,789.5M99.4,789.5L98.3,789.2M99.4,789.5L98.3,790.0M101.4,789.3L100.3,791.1M100.3,791.1L99.5,792.0M100.3,791.1L99.9,792.5M104.1,787.5L100.2,787.1M100.2,787.1L98.2,785.8M98.2,785.8L97.6,784.8M98.2,785.8L96.8,785.7M100.2,787.1L98.3,788.1M98.3,788.1L96.9,788.1M98.3,788.1L97.6,789.3M104.1,787.5L101.9,783.7M101.9,783.7L100.9,780.9M100.9,780.9L101.2,778.9M100.9,780.9L100.0,779.6M101.9,783.7L99.6,782.3M99.6,782.3L98.5,780.8M99.6,782.3L98.1,782.2" stroke="#9955CC" stroke-width="0.55" fill="none" stroke-linecap="round"/>
<text transform="translate(88.3,803.3) scale(1,1.16)" font-size="9.6" fill="#3A90C8" text-anchor="middle">L6 CT</text>
<text transform="translate(105.3,813.3) scale(1,1.16)" font-size="9.6" fill="#8844BB" text-anchor="middle">L6b</text>
<rect x="20.9" y="827.2" width="135.1" height="25.2" rx="11.5" fill="#2E8A96"/><text x="89.0" y="845.9" font-size="21.0" fill="#fff" text-anchor="middle">Other GlutNs</text>
<text transform="translate(98.4,866.1) scale(1,1.16)" font-size="9.6" fill="#33EE77" text-anchor="middle">CR</text>
<line x1="78.5" y1="875.4" x2="119.4" y2="875.4" stroke="#D4D4D4" stroke-width="0.8" stroke-dasharray="2.2,2.2"/>
<line x1="78.5" y1="895.9" x2="119.4" y2="895.9" stroke="#D4D4D4" stroke-width="0.8" stroke-dasharray="2.2,2.2"/>
<line x1="78.5" y1="907.9" x2="119.4" y2="907.9" stroke="#D4D4D4" stroke-width="0.8" stroke-dasharray="2.2,2.2"/>
<line x1="78.5" y1="936.2" x2="119.4" y2="936.2" stroke="#D4D4D4" stroke-width="0.8" stroke-dasharray="2.2,2.2"/>
<rect x="77.5" y="869.1" width="42.9" height="92.6" fill="none" stroke="#222" stroke-width="1"/>
<path d="M89.3,872.4 L114.3,872.4 M97,872.4 L91.8,867 M96,872.6 L91.3,877.8 M99,872.4 L95,874.5" stroke="#33EE77" stroke-width="0.8" fill="none"/>
<ellipse cx="100.7" cy="872.2" rx="2.2" ry="1.4" fill="#33EE77"/><circle cx="114.3" cy="872.4" r="0.9" fill="#33EE77"/>
<path d="M99.2,925.8L99.1,923.2M99.0,923.2L99.4,920.6M99.2,920.6L98.8,920.4M99.2,920.6L99.6,920.3M98.9,920.6L99.1,918.0M99.2,918.0L99.6,917.6M99.0,918.0L99.0,915.4M99.2,915.4L98.7,915.1M99.1,915.4L99.3,912.8M99.2,912.8L98.8,912.6M99.2,912.8L99.0,910.2M99.2,910.2L98.5,909.4M98.5,909.4L98.3,908.6M98.5,909.4L98.1,909.4M99.2,910.2L99.8,909.2M99.8,909.2L100.2,909.2M99.8,909.2L100.1,908.6M99.2,925.8L103.4,926.0M103.4,926.0L105.2,926.9M103.4,926.0L106.2,925.4M99.2,925.8L103.8,927.9M103.8,927.9L105.1,929.9M103.8,927.9L106.4,928.0M99.2,925.8L101.7,928.9M101.7,928.9L101.8,931.5M101.7,928.9L104.4,930.1M99.2,925.8L100.0,929.3M100.0,929.3L99.0,931.3M100.0,929.3L100.8,931.2M99.2,925.8L98.3,929.9M98.3,929.9L96.4,931.8M98.3,929.9L99.2,932.0M99.2,925.8L97.1,929.6M97.1,929.6L95.3,931.6M97.1,929.6L97.0,931.6M99.2,925.8L94.7,927.8M94.7,927.8L91.6,928.4M94.7,927.8L92.6,930.1M99.2,925.8L93.8,927.3M93.8,927.3L91.0,926.7M93.8,927.3L91.4,928.5" stroke="#4A9A6A" stroke-width="0.6" fill="none" stroke-linecap="round"/>
<path d="M99.2,925.8 L92,929 L85.4,933" stroke="#4A9A6A" stroke-width="0.6" fill="none"/>
<path d="M95.5,943.0L101.7,944.0M101.7,944.0L105.3,946.4M105.3,946.4L106.6,948.4M105.3,946.4L107.4,946.9M101.7,944.0L104.6,942.6M104.6,942.6L106.3,942.4M104.6,942.6L105.7,940.9M95.5,943.0L101.1,942.0M101.1,942.0L104.6,943.8M104.6,943.8L106.2,944.9M104.6,943.8L106.7,943.2M101.1,942.0L103.3,939.4M103.3,939.4L104.8,938.8M103.3,939.4L103.6,937.6M95.5,943.0L100.3,946.2M100.3,946.2L102.0,949.7M102.0,949.7L102.0,951.7M102.0,949.7L103.7,951.0M100.3,946.2L103.0,945.8M103.0,945.8L104.6,946.9M103.0,945.8L104.3,945.1M95.5,943.0L98.7,948.8M98.7,948.8L98.8,952.4M98.8,952.4L98.1,954.5M98.8,952.4L99.8,954.1M98.7,948.8L101.4,950.8M101.4,950.8L102.5,952.5M101.4,950.8L103.4,951.4M95.5,943.0L96.4,950.8M96.4,950.8L96.2,955.6M96.2,955.6L95.0,957.9M96.2,955.6L96.6,958.4M96.4,950.8L98.5,954.0M98.5,954.0L98.9,956.2M98.5,954.0L100.2,955.2M95.5,943.0L100.0,938.9M100.0,938.9L103.2,938.6M103.2,938.6L105.0,939.4M103.2,938.6L105.1,937.4M100.0,938.9L102.0,935.6M102.0,935.6L103.4,934.1M102.0,935.6L102.2,933.0" stroke="#6633EE" stroke-width="0.55" fill="none" stroke-linecap="round"/>
<text transform="translate(98.5,969.9) scale(1,1.16)" font-size="9.6" fill="#4A9A6A" text-anchor="middle">L5/6 NP</text>
<text transform="translate(78.5,981.3) scale(1,1.16)" font-size="9.9" fill="#6633EE" text-anchor="middle">Car3|Claustrum-like</text>
<line x1="69.1" y1="962" x2="69.1" y2="965.5" stroke="#444" stroke-width="0.7"/>
<rect x="216.5" y="489.4" width="295.1" height="514.2" rx="18" fill="none" stroke="#F80000" stroke-width="3"/>
<rect x="269.7" y="495.7" width="100.9" height="23.1" rx="8.6" fill="#D9303A"/><text x="320.1" y="514.1" font-size="20.5" fill="#111" text-anchor="middle">Pvalb</text>
<rect x="389.3" y="495.7" width="100.9" height="23.1" rx="8.6" fill="#B366CC"/><text x="441.6" y="513.0" font-size="20.5" fill="#111" text-anchor="middle">Vip</text>
<text transform="translate(311.0,531.7) scale(1,1.16)" font-size="9.6" fill="#EE3366" text-anchor="middle">Pvalb|L2/3 CHC</text>
<text transform="translate(321.5,542.7) scale(1,1.16)" font-size="9.6" fill="#8A4A55" text-anchor="middle">Pvalb|L2/3-L4 FS BC</text>
<line x1="301.5" y1="551.1" x2="341.4" y2="551.1" stroke="#D4D4D4" stroke-width="0.8" stroke-dasharray="2.2,2.2"/>
<line x1="301.5" y1="570.9" x2="341.4" y2="570.9" stroke="#D4D4D4" stroke-width="0.8" stroke-dasharray="2.2,2.2"/>
<line x1="301.5" y1="582.3" x2="341.4" y2="582.3" stroke="#D4D4D4" stroke-width="0.8" stroke-dasharray="2.2,2.2"/>
<line x1="301.5" y1="610.0" x2="341.4" y2="610.0" stroke="#D4D4D4" stroke-width="0.8" stroke-dasharray="2.2,2.2"/>
<rect x="300.5" y="544.8" width="41.9" height="89.9" fill="none" stroke="#222" stroke-width="1"/>
<path d="M311.3,560.2L311.6,554.1M311.6,554.1L312.4,550.8M312.4,550.8L313.2,549.3M312.4,550.8L312.2,549.1M311.6,554.1L311.0,550.3M311.0,550.3L311.2,547.6M311.0,550.3L310.0,548.7M311.3,560.2L311.6,554.2M311.6,554.2L312.3,551.2M312.3,551.2L313.2,550.2M312.3,551.2L312.4,549.3M311.6,554.2L310.9,550.9M310.9,550.9L311.5,548.7M310.9,550.9L310.1,549.6M311.3,560.2L313.5,556.9M313.5,556.9L315.3,555.4M315.3,555.4L316.6,555.5M315.3,555.4L316.3,553.9M313.5,556.9L313.7,554.0M313.7,554.0L314.3,552.5M313.7,554.0L313.7,552.4M311.3,560.2L314.3,559.4M314.3,559.4L315.7,560.1M315.7,560.1L316.5,560.8M315.7,560.1L316.6,559.7M314.3,559.4L315.5,558.0M315.5,558.0L316.4,557.8M315.5,558.0L316.0,556.8M311.3,560.2L314.6,561.1M314.6,561.1L315.9,562.9M315.9,562.9L316.4,564.2M315.9,562.9L316.8,563.0M314.6,561.1L316.5,560.2M316.5,560.2L317.6,560.7M316.5,560.2L317.4,558.8M311.3,560.2L313.5,563.9M313.5,563.9L313.9,567.3M313.9,567.3L313.6,569.5M313.9,567.3L314.4,569.5M313.5,563.9L315.2,564.9M315.2,564.9L316.2,566.0M315.2,564.9L316.1,564.9M311.3,560.2L312.8,565.1M312.8,565.1L312.8,567.9M312.8,567.9L312.2,569.4M312.8,567.9L313.1,569.6M312.8,565.1L313.8,567.5M313.8,567.5L314.2,568.9M313.8,567.5L314.6,568.1M311.3,560.2L310.3,566.9M310.3,566.9L309.0,570.4M309.0,570.4L308.0,571.4M309.0,570.4L308.9,573.2M310.3,566.9L310.8,570.9M310.8,570.9L310.8,573.6M310.8,570.9L311.6,573.0M311.3,560.2L309.1,565.3M309.1,565.3L307.2,566.6M307.2,566.6L305.8,566.4M307.2,566.6L306.4,568.5M309.1,565.3L308.8,568.8M308.8,568.8L308.2,570.3M308.8,568.8L309.3,571.0M311.3,560.2L308.5,564.4M308.5,564.4L306.3,566.2M306.3,566.2L305.1,565.8M306.3,566.2L305.3,567.6M308.5,564.4L307.3,567.8M307.3,567.8L306.6,569.2M307.3,567.8L307.5,569.8M311.3,560.2L307.7,560.4M307.7,560.4L306.0,558.5M306.0,558.5L305.3,556.9M306.0,558.5L304.7,558.6M307.7,560.4L306.0,562.2M306.0,562.2L304.7,562.1M306.0,562.2L305.3,564.1M311.3,560.2L307.9,560.2M307.9,560.2L306.1,558.9M306.1,558.9L305.5,557.6M306.1,558.9L305.1,559.6M307.9,560.2L305.8,561.5M305.8,561.5L304.5,560.9M305.8,561.5L305.0,562.9M311.3,560.2L309.2,556.8M309.2,556.8L308.2,554.9M308.2,554.9L308.1,553.4M308.2,554.9L307.4,553.9M309.2,556.8L307.7,556.4M307.7,556.4L307.0,555.8M307.7,556.4L306.9,556.9M311.3,560.2L309.5,554.7M309.5,554.7L309.2,550.6M309.2,550.6L309.7,548.1M309.2,550.6L308.2,548.7M309.5,554.7L307.8,552.0M307.8,552.0L307.2,550.0M307.8,552.0L306.3,551.7" stroke="#EE2244" stroke-width="0.7" fill="none" stroke-linecap="round"/>
<path d="M311.3,566.0L313.1,570.0M313.1,570.0L313.5,572.6M313.5,572.6L313.4,574.2M313.5,572.6L314.1,573.7M313.1,570.0L314.5,571.3M314.5,571.3L315.0,572.5M314.5,571.3L315.4,571.1M311.3,566.0L312.1,571.5M312.1,571.5L312.2,574.5M312.2,574.5L311.8,576.3M312.2,574.5L312.5,575.9M312.1,571.5L313.3,573.2M313.3,573.2L313.8,574.7M313.3,573.2L314.3,573.2M311.3,566.0L312.0,571.2M312.0,571.2L311.7,574.2M311.7,574.2L311.0,575.5M311.7,574.2L312.0,576.1M312.0,571.2L312.7,573.8M312.7,573.8L312.8,575.5M312.7,573.8L313.4,575.1M311.3,566.0L311.2,571.2M311.2,571.2L310.1,573.5M310.1,573.5L309.2,574.5M310.1,573.5L309.8,575.5M311.2,571.2L311.4,573.7M311.4,573.7L311.4,575.1M311.4,573.7L312.0,575.0M311.3,566.0L310.9,572.5M310.9,572.5L309.7,575.8M309.7,575.8L309.0,577.4M309.7,575.8L309.5,578.3M310.9,572.5L311.4,575.9M311.4,575.9L311.3,577.8M311.4,575.9L312.1,577.2M311.3,566.0L310.4,571.0M310.4,571.0L309.7,573.9M309.7,573.9L309.0,575.4M309.7,573.9L309.5,575.7M310.4,571.0L310.8,574.3M310.8,574.3L310.6,576.4M310.8,574.3L311.6,575.7M311.3,566.0L309.7,571.8M309.7,571.8L307.8,574.0M307.8,574.0L306.5,575.0M307.8,574.0L307.2,575.7M309.7,571.8L309.4,575.5M309.4,575.5L308.8,577.1M309.4,575.5L310.1,577.6M311.3,566.0L313.7,571.0M313.7,571.0L314.6,575.1M314.6,575.1L314.6,578.0M314.6,575.1L315.4,576.9M313.7,571.0L315.5,572.8M315.5,572.8L316.3,574.1M315.5,572.8L316.7,573.1M311.3,566.0L309.9,570.6M309.9,570.6L308.5,572.1M308.5,572.1L307.8,572.5M308.5,572.1L308.0,573.4M309.9,570.6L309.5,573.6M309.5,573.6L308.9,575.1M309.5,573.6L309.8,575.1M311.3,566.0L311.6,571.3M311.6,571.3L310.8,574.6M310.8,574.6L309.9,576.4M310.8,574.6L310.8,576.9M311.6,571.3L312.1,574.2M312.1,574.2L312.3,576.1M312.1,574.2L312.9,575.2" stroke="#EE2244" stroke-width="0.7" fill="none" stroke-linecap="round"/>
<path d="M326.1,569.6L326.3,563.9M326.3,563.9L327.1,561.3M327.1,561.3L328.3,559.9M328.3,559.9L329.4,559.4M328.3,559.9L328.6,558.9M327.1,561.3L326.8,560.0M326.8,560.0L326.7,559.1M326.8,560.0L326.1,559.4M326.3,563.9L325.1,560.3M325.1,560.3L325.4,557.7M325.4,557.7L325.8,556.2M325.4,557.7L324.7,556.2M325.1,560.3L323.5,559.0M323.5,559.0L323.2,558.0M323.5,559.0L322.3,558.7M326.1,569.6L330.8,565.5M330.8,565.5L334.6,564.1M334.6,564.1L337.2,564.3M337.2,564.3L338.5,564.6M337.2,564.3L338.7,563.8M334.6,564.1L336.8,562.8M336.8,562.8L338.2,562.6M336.8,562.8L337.6,561.5M330.8,565.5L331.7,562.6M331.7,562.6L332.5,561.1M332.5,561.1L333.2,560.6M332.5,561.1L332.6,560.3M331.7,562.6L331.2,560.9M331.2,560.9L331.1,559.7M331.2,560.9L330.6,559.9M326.1,569.6L331.8,569.8M331.8,569.8L334.8,570.3M334.8,570.3L336.2,571.4M336.2,571.4L336.7,572.2M336.2,571.4L337.3,571.7M334.8,570.3L336.4,570.1M336.4,570.1L337.4,570.3M336.4,570.1L337.1,569.5M331.8,569.8L335.3,568.4M335.3,568.4L337.4,568.9M337.4,568.9L338.4,569.4M337.4,568.9L338.8,568.7M335.3,568.4L337.2,567.0M337.2,567.0L338.6,566.7M337.2,567.0L338.1,565.9M326.1,569.6L327.6,575.3M327.6,575.3L326.2,579.0M326.2,579.0L324.7,580.7M324.7,580.7L323.4,581.4M324.7,580.7L324.3,582.1M326.2,579.0L327.1,581.5M327.1,581.5L327.0,583.0M327.1,581.5L328.0,582.7M327.6,575.3L330.1,578.0M330.1,578.0L330.9,580.0M330.9,580.0L330.9,581.1M330.9,580.0L332.0,580.8M330.1,578.0L331.8,579.2M331.8,579.2L332.2,580.3M331.8,579.2L332.8,579.4M326.1,569.6L323.6,573.9M323.6,573.9L321.7,575.8M321.7,575.8L320.3,576.1M320.3,576.1L319.6,576.0M320.3,576.1L319.5,576.5M321.7,575.8L321.2,577.0M321.2,577.0L320.6,577.7M321.2,577.0L321.2,577.9M323.6,573.9L323.1,576.7M323.1,576.7L322.1,578.2M322.1,578.2L321.0,578.7M322.1,578.2L322.0,579.4M323.1,576.7L323.7,578.2M323.7,578.2L323.8,579.0M323.7,578.2L324.2,578.8M326.1,569.6L319.3,571.5M319.3,571.5L314.7,570.9M314.7,570.9L312.5,570.0M312.5,570.0L311.7,569.0M312.5,570.0L311.0,570.1M314.7,570.9L312.2,571.7M312.2,571.7L310.5,571.8M312.2,571.7L311.0,572.3M319.3,571.5L316.6,573.4M316.6,573.4L314.4,573.9M314.4,573.9L313.2,573.7M314.4,573.9L313.4,574.8M316.6,573.4L316.2,574.8M316.2,574.8L315.9,575.5M316.2,574.8L316.5,575.6M326.1,569.6L321.3,566.7M321.3,566.7L319.8,564.6M319.8,564.6L319.5,563.2M319.5,563.2L319.8,562.3M319.5,563.2L318.9,562.5M319.8,564.6L318.4,563.8M318.4,563.8L318.0,563.1M318.4,563.8L317.3,563.6M321.3,566.7L317.7,567.0M317.7,567.0L315.7,566.3M315.7,566.3L314.8,565.6M315.7,566.3L314.6,566.4M317.7,567.0L315.9,567.7M315.9,567.7L314.8,567.4M315.9,567.7L315.0,568.4" stroke="#6A2A35" stroke-width="0.5" fill="none" stroke-linecap="round"/>
<path d="M319.5,584.2L318.9,579.4M318.9,579.4L320.2,577.0M320.2,577.0L321.6,576.1M321.6,576.1L322.6,575.6M321.6,576.1L322.1,575.4M320.2,577.0L320.0,575.8M320.0,575.8L320.4,575.1M320.0,575.8L319.4,575.1M318.9,579.4L315.6,577.1M315.6,577.1L315.3,575.3M315.3,575.3L315.7,574.3M315.3,575.3L314.4,574.5M315.6,577.1L312.8,576.2M312.8,576.2L311.7,575.2M312.8,576.2L310.9,576.1M319.5,584.2L323.7,581.2M323.7,581.2L327.0,580.1M327.0,580.1L328.8,579.9M328.8,579.9L329.8,580.0M328.8,579.9L329.6,579.6M327.0,580.1L328.0,578.9M328.0,578.9L328.9,578.6M328.0,578.9L328.0,578.1M323.7,581.2L325.5,579.1M325.5,579.1L327.4,578.2M327.4,578.2L328.7,578.2M327.4,578.2L328.4,577.4M325.5,579.1L325.5,577.9M325.5,577.9L325.9,577.2M325.5,577.9L324.9,577.4M319.5,584.2L327.0,583.9M327.0,583.9L330.3,584.9M330.3,584.9L332.0,585.8M332.0,585.8L332.6,586.5M332.0,585.8L333.4,586.2M330.3,584.9L332.3,585.0M332.3,585.0L333.4,585.1M332.3,585.0L333.1,584.6M327.0,583.9L331.7,582.8M331.7,582.8L334.9,582.8M334.9,582.8L336.6,583.2M334.9,582.8L336.4,582.3M331.7,582.8L333.5,581.4M333.5,581.4L334.7,580.9M333.5,581.4L333.8,580.5M319.5,584.2L322.1,587.8M322.1,587.8L322.0,589.6M322.0,589.6L321.5,590.7M321.5,590.7L321.0,591.2M321.5,590.7L321.7,591.4M322.0,589.6L322.9,590.4M322.9,590.4L323.1,590.9M322.9,590.4L323.6,590.8M322.1,587.8L324.7,588.7M324.7,588.7L326.1,589.5M326.1,589.5L326.5,590.2M326.1,589.5L326.9,589.9M324.7,588.7L326.4,588.8M326.4,588.8L327.4,589.2M326.4,588.8L327.4,588.7M319.5,584.2L316.1,588.9M316.1,588.9L312.0,590.6M312.0,590.6L309.6,591.0M309.6,591.0L308.0,590.6M309.6,591.0L308.1,591.5M312.0,590.6L310.8,592.0M310.8,592.0L309.7,592.3M310.8,592.0L310.5,593.0M316.1,588.9L315.3,592.0M315.3,592.0L313.7,593.4M313.7,593.4L312.5,593.9M313.7,593.4L313.4,594.3M315.3,592.0L316.3,593.4M316.3,593.4L316.2,594.2M316.3,593.4L317.2,594.2M319.5,584.2L311.5,585.3M311.5,585.3L307.1,584.9M307.1,584.9L305.0,583.9M305.0,583.9L304.2,583.1M305.0,583.9L303.8,583.6M307.1,584.9L305.0,585.1M305.0,585.1L303.5,584.9M305.0,585.1L303.8,585.7M311.5,585.3L307.9,587.6M307.9,587.6L305.5,587.7M305.5,587.7L303.9,587.7M305.5,587.7L304.1,588.0M307.9,587.6L306.5,589.2M306.5,589.2L305.4,590.1M306.5,589.2L306.4,590.4M319.5,584.2L314.5,582.1M314.5,582.1L312.3,579.9M312.3,579.9L311.6,578.2M311.6,578.2L311.9,577.1M311.6,578.2L310.3,577.5M312.3,579.9L310.6,579.1M310.6,579.1L310.1,578.6M310.6,579.1L309.5,579.0M314.5,582.1L311.2,581.9M311.2,581.9L309.3,581.5M309.3,581.5L308.7,580.8M309.3,581.5L308.1,581.3M311.2,581.9L309.6,582.6M309.6,582.6L308.6,582.6M309.6,582.6L308.9,583.3" stroke="#CC3344" stroke-width="0.5" fill="none" stroke-linecap="round"/>
<path d="M325.6,610.1L324.4,604.0M324.4,604.0L325.5,600.8M325.5,600.8L327.3,599.4M327.3,599.4L328.7,599.2M327.3,599.4L328.2,598.6M325.5,600.8L325.7,599.1M325.7,599.1L326.2,598.2M325.7,599.1L325.2,598.2M324.4,604.0L322.0,601.2M322.0,601.2L321.4,598.9M321.4,598.9L322.1,597.7M321.4,598.9L320.2,597.9M322.0,601.2L319.9,600.1M319.9,600.1L318.8,599.0M319.9,600.1L318.4,599.8M325.6,610.1L330.8,606.2M330.8,606.2L334.3,605.8M334.3,605.8L336.5,605.8M336.5,605.8L337.5,606.3M336.5,605.8L337.8,605.5M334.3,605.8L336.1,605.0M336.1,605.0L337.2,604.7M336.1,605.0L336.6,603.9M330.8,606.2L333.6,603.4M333.6,603.4L335.9,602.2M335.9,602.2L337.4,601.8M335.9,602.2L336.3,601.0M333.6,603.4L334.4,601.3M334.4,601.3L335.2,600.2M334.4,601.3L334.5,599.7M325.6,610.1L333.6,609.1M333.6,609.1L337.5,609.5M337.5,609.5L339.1,610.5M339.1,610.5L339.8,611.2M339.1,610.5L340.3,610.5M337.5,609.5L339.8,609.3M339.8,609.3L341.2,609.8M339.8,609.3L340.8,608.5M333.6,609.1L337.5,606.8M337.5,606.8L340.5,606.0M340.5,606.0L342.7,606.0M340.5,606.0L341.7,605.0M337.5,606.8L338.8,604.6M338.8,604.6L340.2,603.8M338.8,604.6L339.1,603.1M325.6,610.1L331.2,613.4M331.2,613.4L332.8,615.9M332.8,615.9L333.4,617.6M333.4,617.6L333.2,618.7M333.4,617.6L334.4,618.4M332.8,615.9L334.3,617.0M334.3,617.0L334.7,618.1M334.3,617.0L335.3,617.6M331.2,613.4L334.4,614.4M334.4,614.4L336.0,615.8M336.0,615.8L336.8,616.9M336.0,615.8L337.3,615.9M334.4,614.4L336.4,614.1M336.4,614.1L337.7,614.4M336.4,614.1L337.4,613.7M325.6,610.1L326.3,616.2M326.3,616.2L326.1,620.4M326.1,620.4L323.6,622.4M323.6,622.4L321.8,623.0M323.6,622.4L323.1,624.3M326.1,620.4L326.4,623.3M326.4,623.3L325.7,625.2M326.4,623.3L327.6,624.7M326.3,616.2L327.9,619.5M327.9,619.5L327.5,621.4M327.5,621.4L326.7,622.4M327.5,621.4L327.7,622.8M327.9,619.5L329.8,620.8M329.8,620.8L330.5,621.7M329.8,620.8L331.1,621.0M325.6,610.1L320.2,614.0M320.2,614.0L315.7,614.3M315.7,614.3L313.3,613.6M313.3,613.6L312.4,612.6M313.3,613.6L311.9,613.5M315.7,614.3L313.4,615.3M313.4,615.3L311.9,615.3M313.4,615.3L312.7,616.4M320.2,614.0L318.1,616.4M318.1,616.4L316.3,617.7M316.3,617.7L314.9,618.2M316.3,617.7L315.7,618.9M318.1,616.4L318.1,618.0M318.1,618.0L318.0,618.9M318.1,618.0L318.3,618.9M325.6,610.1L318.8,610.7M318.8,610.7L315.3,609.7M315.3,609.7L313.8,608.4M313.8,608.4L313.5,607.1M313.8,608.4L312.9,607.7M315.3,609.7L313.3,609.5M313.3,609.5L312.1,609.3M313.3,609.5L312.2,609.9M318.8,610.7L315.5,612.3M315.5,612.3L313.6,612.4M313.6,612.4L312.6,612.0M313.6,612.4L312.5,612.7M315.5,612.3L314.4,614.0M314.4,614.0L313.1,614.4M314.4,614.0L314.1,615.2M325.6,610.1L321.7,605.9M321.7,605.9L320.0,603.2M320.0,603.2L319.9,601.7M319.9,601.7L320.5,601.0M319.9,601.7L319.5,601.0M320.0,603.2L318.0,602.2M318.0,602.2L316.9,601.5M318.0,602.2L316.7,602.0M321.7,605.9L318.6,604.1M318.6,604.1L317.4,602.3M317.4,602.3L317.1,600.9M317.4,602.3L316.2,601.4M318.6,604.1L316.3,604.0M316.3,604.0L314.7,603.6M316.3,604.0L315.2,604.6" stroke="#AA3333" stroke-width="0.5" fill="none" stroke-linecap="round"/>
<circle cx="311.3" cy="560.2" r="1.6" fill="#2a0a0a"/>
<circle cx="326.1" cy="569.6" r="1.6" fill="#2a0a0a"/>
<circle cx="319.5" cy="584.2" r="1.6" fill="#2a0a0a"/>
<circle cx="325.6" cy="610.1" r="1.6" fill="#2a0a0a"/>
<text transform="translate(315.6,643.5) scale(1,1.16)" font-size="9.6" fill="#DD3366" text-anchor="middle">Pvalb|L4/5 FS BC</text>
<text transform="translate(319.1,653.3) scale(1,1.16)" font-size="9.6" fill="#B04444" text-anchor="middle">Pvalb|L5/6 FS BC</text>
<text transform="translate(443.2,533.2) scale(1,1.16)" font-size="9.6" fill="#A070C0" text-anchor="middle">Vip|L2/3-L4 BP/BTC</text>
<text transform="translate(449.5,544.9) scale(1,1.16)" font-size="9.6" fill="#EE77EE" text-anchor="middle">Vip|Uncharacterized</text>
<line x1="428.3" y1="552.3" x2="468.2" y2="552.3" stroke="#D4D4D4" stroke-width="0.8" stroke-dasharray="2.2,2.2"/>
<line x1="428.3" y1="572.4" x2="468.2" y2="572.4" stroke="#D4D4D4" stroke-width="0.8" stroke-dasharray="2.2,2.2"/>
<line x1="428.3" y1="583.3" x2="468.2" y2="583.3" stroke="#D4D4D4" stroke-width="0.8" stroke-dasharray="2.2,2.2"/>
<line x1="428.3" y1="611.2" x2="468.2" y2="611.2" stroke="#D4D4D4" stroke-width="0.8" stroke-dasharray="2.2,2.2"/>
<rect x="427.3" y="546.0" width="41.9" height="90.2" fill="none" stroke="#222" stroke-width="1"/>
<path d="M439.3,562.3L437.8,558.1M437.8,558.1L437.0,555.1M437.0,555.1L437.5,553.2M437.0,555.1L436.1,554.0M437.8,558.1L436.3,557.0M436.3,557.0L435.7,555.6M436.3,557.0L435.5,556.9M439.3,562.3L439.3,557.1M439.3,557.1L439.9,554.8M439.9,554.8L440.7,553.8M439.9,554.8L440.0,553.3M439.3,557.1L438.4,554.4M438.4,554.4L438.0,553.0M438.4,554.4L437.3,553.5M439.3,562.3L441.8,558.1M441.8,558.1L443.1,556.1M443.1,556.1L444.3,555.7M443.1,556.1L443.6,554.6M441.8,558.1L441.8,555.0M441.8,555.0L442.3,553.0M441.8,555.0L441.2,553.4" stroke="#9966CC" stroke-width="0.45" fill="none" stroke-linecap="round"/>
<path d="M439.3,562.3L440.7,574.6M440.7,574.6L440.3,582.8M440.3,582.8L439.3,586.9M440.3,582.8L440.9,587.3M440.7,574.6L441.5,580.4M441.5,580.4L441.5,584.7M441.5,580.4L442.3,582.5M439.3,562.3L438.9,578.5M438.9,578.5L437.1,586.8M437.1,586.8L435.5,590.6M437.1,586.8L436.7,593.5M438.9,578.5L440.5,586.9M440.5,586.9L440.5,592.5M440.5,586.9L442.0,590.2M439.3,562.3L437.5,576.9M437.5,576.9L435.3,584.6M435.3,584.6L433.5,587.0M435.3,584.6L434.7,590.8M437.5,576.9L437.7,585.3M437.7,585.3L437.4,589.3M437.7,585.3L438.5,588.6" stroke="#9966CC" stroke-width="0.45" fill="none" stroke-linecap="round"/>
<circle cx="439.3" cy="562.3" r="1.4" fill="#221"/>
<path d="M450.7,578.1L448.2,573.5M448.2,573.5L447.6,570.0M447.6,570.0L447.4,567.8M447.6,570.0L446.8,568.6M448.2,573.5L446.4,572.1M446.4,572.1L445.8,570.5M446.4,572.1L445.2,572.7M450.7,578.1L450.4,571.4M450.4,571.4L451.0,567.9M451.0,567.9L451.8,566.5M451.0,567.9L450.7,565.4M450.4,571.4L450.0,566.9M450.0,566.9L450.2,564.2M450.0,566.9L449.2,564.8M450.7,578.1L453.0,572.6M453.0,572.6L454.9,569.5M454.9,569.5L456.4,569.2M454.9,569.5L455.6,567.0M453.0,572.6L453.5,569.2M453.5,569.2L454.3,567.7M453.5,569.2L453.3,567.3" stroke="#EE66EE" stroke-width="0.45" fill="none" stroke-linecap="round"/>
<path d="M450.7,578.1L451.6,586.5M451.6,586.5L451.5,591.7M451.5,591.7L451.0,594.6M451.5,591.7L452.0,594.7M451.6,586.5L453.5,590.1M453.5,590.1L454.0,592.6M453.5,590.1L454.9,591.5M450.7,578.1L451.0,586.9M451.0,586.9L450.0,590.9M450.0,590.9L449.2,592.9M450.0,590.9L450.2,593.3M451.0,586.9L452.2,591.7M452.2,591.7L452.1,595.1M452.2,591.7L453.7,593.6M450.7,578.1L449.5,585.5M449.5,585.5L447.5,589.2M447.5,589.2L446.2,590.3M447.5,589.2L447.1,591.7M449.5,585.5L449.6,590.7M449.6,590.7L448.9,593.0M449.6,590.7L450.1,593.1" stroke="#EE66EE" stroke-width="0.45" fill="none" stroke-linecap="round"/>
<circle cx="450.7" cy="578.1" r="1.4" fill="#221"/>
<path d="M461.5,586.0L459.3,580.9M459.3,580.9L458.6,577.2M458.6,577.2L458.6,575.2M458.6,577.2L457.4,575.4M459.3,580.9L457.4,579.1M457.4,579.1L456.9,577.4M457.4,579.1L456.0,578.5M461.5,586.0L461.2,580.1M461.2,580.1L462.1,577.4M462.1,577.4L463.2,576.3M462.1,577.4L462.4,575.4M461.2,580.1L460.0,577.7M460.0,577.7L459.7,575.7M460.0,577.7L459.2,576.8M461.5,586.0L464.0,580.8M464.0,580.8L466.5,578.9M466.5,578.9L468.4,579.0M466.5,578.9L467.6,577.5M464.0,580.8L464.9,577.2M464.9,577.2L465.8,575.9M464.9,577.2L464.5,575.2" stroke="#9977BB" stroke-width="0.45" fill="none" stroke-linecap="round"/>
<path d="M461.5,586.0L463.3,597.8M463.3,597.8L463.8,605.0M463.8,605.0L463.4,609.2M463.8,605.0L464.3,608.1M463.3,597.8L464.8,602.2M464.8,602.2L465.2,605.2M464.8,602.2L466.0,603.5M461.5,586.0L460.9,600.5M460.9,600.5L459.2,608.6M459.2,608.6L457.5,612.1M459.2,608.6L458.6,613.3M460.9,600.5L461.7,607.9M461.7,607.9L461.3,613.0M461.7,607.9L462.6,610.3M461.5,586.0L459.6,599.9M459.6,599.9L457.1,605.9M457.1,605.9L455.2,607.5M457.1,605.9L456.5,611.2M459.6,599.9L459.3,610.0M459.3,610.0L458.7,615.7M459.3,610.0L459.6,615.5" stroke="#9977BB" stroke-width="0.45" fill="none" stroke-linecap="round"/>
<circle cx="461.5" cy="586.0" r="1.4" fill="#221"/>
<text transform="translate(436.1,646.9) scale(1,1.16)" font-size="9.6" fill="#A080C0" text-anchor="middle">Vip|L2/3-L5 BP/BTC</text>
<rect x="269.9" y="661.0" width="100.7" height="22.8" rx="8.6" fill="#FF9500"/><text x="318.6" y="678.1" font-size="20.5" fill="#111" text-anchor="middle">Sst</text>
<text transform="translate(321.2,697.0) scale(1,1.16)" font-size="9.6" fill="#B0904A" text-anchor="middle">Sst|L2/3-L5 fan-MC</text>
<text transform="translate(320.5,707.7) scale(1,1.16)" font-size="9.6" fill="#C8A040" text-anchor="middle">Sst|L4 IVC</text>
<line x1="303.0" y1="735.4" x2="342.8" y2="735.4" stroke="#D4D4D4" stroke-width="0.8" stroke-dasharray="2.2,2.2"/>
<line x1="303.0" y1="747.0" x2="342.8" y2="747.0" stroke="#D4D4D4" stroke-width="0.8" stroke-dasharray="2.2,2.2"/>
<line x1="303.0" y1="774.6" x2="342.8" y2="774.6" stroke="#D4D4D4" stroke-width="0.8" stroke-dasharray="2.2,2.2"/>
<rect x="302.0" y="709.3" width="41.8" height="90.2" fill="none" stroke="#222" stroke-width="1"/>
<path d="M325.0,716.0L316.8,715.9M316.8,715.9L312.4,715.4M312.4,715.4L310.3,714.8M312.4,715.4L309.4,715.3M316.8,715.9L311.7,716.4M311.7,716.4L308.9,716.3M311.7,716.4L309.9,717.1M325.0,716.0L318.1,714.4M318.1,714.4L314.6,713.4M314.6,713.4L314.5,712.7M314.6,713.4L312.1,713.1M318.1,714.4L312.8,714.4M312.8,714.4L310.0,714.0M312.8,714.4L309.5,714.6M325.0,716.0L320.2,714.5M320.2,714.5L318.7,713.4M318.7,713.4L318.4,712.7M318.7,713.4L317.2,712.9M320.2,714.5L316.1,714.3M316.1,714.3L314.1,714.0M316.1,714.3L313.7,714.5M325.0,716.0L323.7,713.6M323.7,713.6L325.2,712.2M325.2,712.2L327.3,711.7M325.2,712.2L324.7,711.4M323.7,713.6L321.1,712.5M321.1,712.5L320.4,711.7M321.1,712.5L318.6,712.0M325.0,716.0L324.1,713.3M324.1,713.3L324.4,711.7M324.4,711.7L326.1,710.8M324.4,711.7L323.7,710.8M324.1,713.3L322.2,712.1M322.2,712.1L322.2,711.4M322.2,712.1L320.0,711.7M325.0,716.0L328.1,713.6M328.1,713.6L332.5,712.5M332.5,712.5L335.3,712.1M332.5,712.5L333.7,711.4M328.1,713.6L327.9,711.8M327.9,711.8L329.2,710.9M327.9,711.8L326.1,710.8M325.0,716.0L329.2,714.3M329.2,714.3L332.3,713.5M332.3,713.5L334.8,713.4M332.3,713.5L333.5,712.9M329.2,714.3L329.6,713.2M329.6,713.2L330.4,712.8M329.6,713.2L328.9,712.7M325.0,716.0L331.6,714.5M331.6,714.5L336.9,714.1M336.9,714.1L340.4,714.2M336.9,714.1L338.9,713.6M331.6,714.5L334.4,713.1M334.4,713.1L336.5,712.2M334.4,713.1L334.6,712.2M325.0,716.0L333.8,715.8M333.8,715.8L339.0,716.3M339.0,716.3L341.5,717.0M339.0,716.3L342.8,716.3M333.8,715.8L338.8,715.0M338.8,715.0L341.8,714.8M338.8,715.0L340.8,714.1" stroke="#A06030" stroke-width="0.55" fill="none" stroke-linecap="round"/>
<path d="M326.2,759.8 L324,740 L325,716 M326.2,759.8 L328,738 L329,716" stroke="#A06030" stroke-width="0.6" fill="none"/>
<path d="M315.8,724.0L316.3,718.5M316.3,718.5L318.2,716.0M318.2,716.0L319.3,714.9M318.2,716.0L318.4,714.3M316.3,718.5L315.6,715.5M315.6,715.5L315.8,714.0M315.6,715.5L314.7,714.0M315.8,724.0L318.7,719.3M318.7,719.3L321.5,717.1M321.5,717.1L323.5,716.3M321.5,717.1L322.3,715.0M318.7,719.3L318.7,716.3M318.7,716.3L319.6,714.6M318.7,716.3L318.0,714.7M315.8,724.0L319.3,721.7M319.3,721.7L321.4,721.4M321.4,721.4L322.6,721.8M321.4,721.4L322.5,720.4M319.3,721.7L320.8,719.8M320.8,719.8L321.9,719.3M320.8,719.8L321.4,718.6M315.8,724.0L320.4,723.1M320.4,723.1L322.9,723.2M322.9,723.2L324.0,723.7M322.9,723.2L324.2,722.5M320.4,723.1L322.3,721.3M322.3,721.3L323.6,720.9M322.3,721.3L323.3,720.2M315.8,724.0L319.8,725.5M319.8,725.5L321.4,726.9M321.4,726.9L321.7,728.3M321.4,726.9L322.5,727.5M319.8,725.5L322.4,725.2M322.4,725.2L323.8,725.9M322.4,725.2L323.8,724.9M315.8,724.0L320.0,726.2M320.0,726.2L322.0,728.6M322.0,728.6L322.3,730.6M322.0,728.6L323.7,729.5M320.0,726.2L322.3,726.6M322.3,726.6L323.5,727.2M322.3,726.6L323.7,726.0M315.8,724.0L318.2,728.2M318.2,728.2L318.2,731.0M318.2,731.0L317.5,732.2M318.2,731.0L319.1,732.3M318.2,728.2L320.2,729.9M320.2,729.9L320.8,731.3M320.2,729.9L321.9,730.6M315.8,724.0L314.5,728.3M314.5,728.3L312.7,730.5M312.7,730.5L311.2,731.2M312.7,730.5L312.5,732.2M314.5,728.3L315.4,731.1M315.4,731.1L315.3,732.7M315.4,731.1L316.3,732.3M315.8,724.0L313.6,728.7M313.6,728.7L311.0,730.6M311.0,730.6L309.0,731.3M311.0,730.6L310.0,732.1M313.6,728.7L313.9,731.3M313.9,731.3L313.6,732.6M313.9,731.3L314.7,732.9M315.8,724.0L312.6,726.8M312.6,726.8L310.4,727.4M310.4,727.4L309.3,727.3M310.4,727.4L309.5,728.0M312.6,726.8L311.1,729.1M311.1,729.1L309.6,729.9M311.1,729.1L310.6,730.8M315.8,724.0L311.0,725.4M311.0,725.4L307.5,725.3M307.5,725.3L305.9,724.9M307.5,725.3L305.5,725.5M311.0,725.4L309.0,728.3M309.0,728.3L307.5,729.1M309.0,728.3L308.3,729.8M315.8,724.0L311.0,722.3M311.0,722.3L308.6,720.0M308.6,720.0L307.4,718.0M308.6,720.0L306.4,719.3M311.0,722.3L308.4,721.9M308.4,721.9L307.2,721.2M308.4,721.9L306.6,722.2M315.8,724.0L311.1,721.7M311.1,721.7L309.3,719.5M309.3,719.5L309.2,718.1M309.3,719.5L308.0,718.8M311.1,721.7L308.5,721.2M308.5,721.2L307.6,720.2M308.5,721.2L307.1,721.3M315.8,724.0L314.7,719.2M314.7,719.2L315.6,716.5M315.6,716.5L316.7,715.1M315.6,716.5L315.2,715.0M314.7,719.2L312.7,716.9M312.7,716.9L312.1,715.3M312.7,716.9L310.6,716.8" stroke="#C8A040" stroke-width="0.55" fill="none" stroke-linecap="round"/>
<path d="M336.0,741.0L337.0,735.8M337.0,735.8L338.3,733.9M338.3,733.9L339.4,733.4M338.3,733.9L338.8,732.5M337.0,735.8L337.0,732.9M337.0,732.9L337.3,731.4M337.0,732.9L336.4,731.6M336.0,741.0L338.0,736.4M338.0,736.4L339.4,733.9M339.4,733.9L340.4,733.3M339.4,733.9L340.0,732.0M338.0,736.4L338.6,733.8M338.6,733.8L339.2,732.8M338.6,733.8L338.6,732.2M336.0,741.0L338.6,737.6M338.6,737.6L340.3,736.9M340.3,736.9L341.3,736.9M340.3,736.9L341.0,735.6M338.6,737.6L339.1,734.5M339.1,734.5L339.7,732.9M339.1,734.5L339.0,732.3M336.0,741.0L339.4,739.1M339.4,739.1L341.3,740.1M341.3,740.1L342.0,741.6M341.3,740.1L342.5,740.0M339.4,739.1L340.9,737.1M340.9,737.1L341.9,736.8M340.9,737.1L341.7,735.5M336.0,741.0L338.6,741.9M338.6,741.9L339.7,743.0M339.7,743.0L340.1,744.1M339.7,743.0L340.4,743.3M338.6,741.9L340.1,741.5M340.1,741.5L340.8,741.8M340.1,741.5L340.7,740.7M336.0,741.0L338.0,744.3M338.0,744.3L338.5,747.2M338.5,747.2L338.6,748.8M338.5,747.2L339.3,748.1M338.0,744.3L339.5,745.2M339.5,745.2L340.3,746.2M339.5,745.2L340.4,745.0M336.0,741.0L335.2,746.3M335.2,746.3L333.6,748.2M333.6,748.2L332.6,748.8M333.6,748.2L333.3,749.7M335.2,746.3L335.2,749.7M335.2,749.7L334.8,751.6M335.2,749.7L335.8,751.3M336.0,741.0L334.0,745.8M334.0,745.8L332.2,747.3M332.2,747.3L330.9,747.3M332.2,747.3L331.5,748.7M334.0,745.8L333.5,749.6M333.5,749.6L332.9,751.3M333.5,749.6L333.7,752.1M336.0,741.0L334.0,744.4M334.0,744.4L332.6,744.7M332.6,744.7L331.9,744.6M332.6,744.7L332.0,745.5M334.0,744.4L333.1,746.7M333.1,746.7L332.3,747.8M333.1,746.7L333.1,748.5M336.0,741.0L333.0,741.5M333.0,741.5L331.2,740.1M331.2,740.1L330.4,738.3M331.2,740.1L330.0,740.0M333.0,741.5L331.3,742.9M331.3,742.9L330.1,742.8M331.3,742.9L330.7,744.3M336.0,741.0L333.4,738.7M333.4,738.7L331.9,736.5M331.9,736.5L331.8,734.6M331.9,736.5L330.9,736.2M333.4,738.7L331.6,739.1M331.6,739.1L330.6,738.8M331.6,739.1L330.7,739.8M336.0,741.0L334.2,736.3M334.2,736.3L333.9,733.1M333.9,733.1L334.4,731.3M333.9,733.1L333.2,731.5M334.2,736.3L332.4,735.0M332.4,735.0L331.6,733.9M332.4,735.0L331.5,734.7" stroke="#C8A040" stroke-width="0.55" fill="none" stroke-linecap="round"/>
<path d="M313.3,782.0L316.2,766.3M316.2,766.3L321.0,756.7M321.0,756.7L325.4,750.1M325.4,750.1L329.7,747.3M329.7,747.3L333.4,745.3M329.7,747.3L331.5,744.5M325.4,750.1L326.3,743.6M326.3,743.6L328.7,740.2M326.3,743.6L325.4,739.4M321.0,756.7L322.1,749.6M322.1,749.6L323.7,744.2M323.7,744.2L327.7,741.4M323.7,744.2L323.3,739.5M322.1,749.6L321.8,745.2M321.8,745.2L322.2,742.4M321.8,745.2L319.5,742.6M316.2,766.3L313.7,756.6M313.7,756.6L315.6,748.8M315.6,748.8L317.8,743.8M317.8,743.8L320.8,740.7M317.8,743.8L317.6,740.5M315.6,748.8L316.0,743.1M316.0,743.1L317.2,738.4M316.0,743.1L314.2,740.0M313.7,756.6L309.1,752.3M309.1,752.3L307.1,747.4M307.1,747.4L306.8,743.2M307.1,747.4L304.8,744.4M309.1,752.3L305.3,751.4M305.3,751.4L302.4,749.8M305.3,751.4L302.5,750.6" stroke="#D89A40" stroke-width="0.55" fill="none" stroke-linecap="round"/>
<path d="M313.3,782.0L315.9,783.7M315.9,783.7L316.5,785.4M315.9,783.7L317.4,784.3M313.3,782.0L315.1,786.0M315.1,786.0L314.9,789.1M315.1,786.0L317.3,787.3M313.3,782.0L311.9,785.7M311.9,785.7L310.3,787.6M311.9,785.7L311.9,788.3M313.3,782.0L310.1,783.9M310.1,783.9L307.7,784.6M310.1,783.9L308.7,786.3" stroke="#D09030" stroke-width="0.6" fill="none" stroke-linecap="round"/>
<path d="M326.2,759.8L330.4,762.3M330.4,762.3L332.7,764.3M330.4,762.3L332.6,761.6M326.2,759.8L328.1,764.1M328.1,764.1L328.5,766.6M328.1,764.1L329.7,766.1M326.2,759.8L326.1,764.6M326.1,764.6L325.2,767.3M326.1,764.6L327.1,766.9M326.2,759.8L324.2,764.8M324.2,764.8L322.7,766.7M324.2,764.8L324.2,768.3M326.2,759.8L322.8,760.9M322.8,760.9L320.5,760.4M322.8,760.9L321.3,762.2" stroke="#7A4A10" stroke-width="0.6" fill="none" stroke-linecap="round"/>
<circle cx="315.8" cy="728.2" r="1.7" fill="#3A2A10"/>
<circle cx="336" cy="744" r="1.7" fill="#3A2A10"/>
<circle cx="326.2" cy="759.8" r="1.7" fill="#3A2A10"/>
<circle cx="313.3" cy="782" r="1.7" fill="#3A2A10"/>
<text transform="translate(323.0,809.1) scale(1,1.16)" font-size="9.6" fill="#9A6A30" text-anchor="middle">Sst|L5 T-MC</text>
<text transform="translate(322.3,819.4) scale(1,1.16)" font-size="9.6" fill="#D09030" text-anchor="middle">Sst|L5/L6 NMC</text>
<line x1="386.6" y1="793" x2="386.6" y2="796.8" stroke="#444" stroke-width="0.7"/>
<rect x="386.6" y="660.3" width="103.5" height="23.7" rx="8.8" fill="#D77F89"/><text x="438.7" y="677.7" font-size="21.2" fill="#111" text-anchor="middle">Lamp5</text>
<text transform="translate(441.0,697.3) scale(1,1.16)" font-size="9.6" fill="#E08898" text-anchor="middle">Lamp5|L1 A7C/CNC</text>
<text transform="translate(443.9,708.4) scale(1,1.16)" font-size="9.6" fill="#F0889A" text-anchor="middle">Lamp5|L1-L5 NGC</text>
<line x1="425.6" y1="716.0" x2="465.6" y2="716.0" stroke="#D4D4D4" stroke-width="0.8" stroke-dasharray="2.2,2.2"/>
<line x1="425.6" y1="736.1" x2="465.6" y2="736.1" stroke="#D4D4D4" stroke-width="0.8" stroke-dasharray="2.2,2.2"/>
<line x1="425.6" y1="747.5" x2="465.6" y2="747.5" stroke="#D4D4D4" stroke-width="0.8" stroke-dasharray="2.2,2.2"/>
<line x1="425.6" y1="775.3" x2="465.6" y2="775.3" stroke="#D4D4D4" stroke-width="0.8" stroke-dasharray="2.2,2.2"/>
<rect x="424.6" y="709.6" width="42.0" height="90.5" fill="none" stroke="#222" stroke-width="1"/>
<path d="M445.6,714.0L445.8,712.0M445.8,712.0L448.3,711.2M448.3,711.2L450.2,710.7M448.3,711.2L449.0,710.5M445.8,712.0L445.1,710.6M445.1,710.6L445.4,709.8M445.1,710.6L443.1,710.1M445.6,714.0L450.5,713.3M450.5,713.3L453.4,713.2M453.4,713.2L455.0,713.4M453.4,713.2L454.9,712.9M450.5,713.3L451.5,712.5M451.5,712.5L453.0,712.3M451.5,712.5L451.2,712.0M445.6,714.0L452.9,714.0M452.9,714.0L456.3,714.5M456.3,714.5L457.4,715.1M456.3,714.5L458.4,714.7M452.9,714.0L456.9,713.5M456.9,713.5L459.2,713.6M456.9,713.5L458.6,713.0M445.6,714.0L449.9,715.3M449.9,715.3L451.5,716.2M451.5,716.2L451.9,716.8M451.5,716.2L452.7,716.5M449.9,715.3L453.2,715.8M453.2,715.8L455.1,716.2M453.2,715.8L455.4,715.7M445.6,714.0L446.3,715.8M446.3,715.8L445.5,716.7M445.5,716.7L443.8,717.1M445.5,716.7L445.4,717.2M446.3,715.8L448.0,716.6M448.0,716.6L448.0,717.2M448.0,716.6L449.6,717.0M445.6,714.0L442.0,715.2M442.0,715.2L438.9,715.6M438.9,715.6L436.7,715.8M438.9,715.6L438.1,716.1M442.0,715.2L441.2,715.9M441.2,715.9L440.4,716.3M441.2,715.9L442.0,716.3M445.6,714.0L440.0,714.3M440.0,714.3L436.4,714.2M436.4,714.2L434.8,713.8M436.4,714.2L434.2,714.4M440.0,714.3L437.1,714.9M437.1,714.9L435.4,715.2M437.1,714.9L435.9,715.6M445.6,714.0L442.5,712.6M442.5,712.6L441.9,711.7M441.9,711.7L442.1,711.1M441.9,711.7L440.9,711.3M442.5,712.6L439.3,712.2M439.3,712.2L437.7,711.7M439.3,712.2L437.5,712.2" stroke="#E07890" stroke-width="0.45" fill="none" stroke-linecap="round"/>
<path d="M445.8,721.5L446.1,716.8M446.1,716.8L447.9,713.8M447.9,713.8L449.9,711.9M447.9,713.8L447.7,712.0M446.1,716.8L444.4,713.9M444.4,713.9L444.8,712.0M444.4,713.9L441.9,713.0M445.8,721.5L451.3,719.0M451.3,719.0L454.7,718.3M454.7,718.3L456.7,718.2M454.7,718.3L456.0,717.7M451.3,719.0L452.6,717.3M452.6,717.3L453.7,716.5M452.6,717.3L452.5,716.3M445.8,721.5L454.3,720.7M454.3,720.7L458.4,721.2M458.4,721.2L460.3,721.7M458.4,721.2L460.9,720.8M454.3,720.7L458.1,719.5M458.1,719.5L460.3,719.1M458.1,719.5L460.1,718.5M445.8,721.5L452.5,723.5M452.5,723.5L454.3,725.4M454.3,725.4L454.0,726.7M454.3,725.4L456.0,726.2M452.5,723.5L457.3,724.1M457.3,724.1L460.2,724.9M457.3,724.1L460.0,723.8M445.8,721.5L447.7,725.6M447.7,725.6L447.0,727.6M447.0,727.6L446.0,728.6M447.0,727.6L447.8,728.6M447.7,725.6L451.0,727.9M451.0,727.9L451.3,729.6M451.0,727.9L454.1,729.2M445.8,721.5L444.9,725.4M444.9,725.4L442.5,727.5M442.5,727.5L440.2,728.5M442.5,727.5L443.1,728.7M444.9,725.4L447.0,727.4M447.0,727.4L446.5,728.5M447.0,727.4L448.9,728.1M445.8,721.5L438.4,724.4M438.4,724.4L432.4,725.4M432.4,725.4L428.7,725.5M432.4,725.4L428.9,726.4M438.4,724.4L435.9,726.8M435.9,726.8L433.3,727.6M435.9,726.8L434.9,728.1M445.8,721.5L437.7,720.7M437.7,720.7L434.0,719.8M434.0,719.8L432.5,718.8M434.0,719.8L431.4,719.7M437.7,720.7L433.2,721.0M433.2,721.0L430.2,720.6M433.2,721.0L431.1,722.1M445.8,721.5L440.1,717.8M440.1,717.8L440.4,714.9M440.4,714.9L441.0,712.9M440.4,714.9L439.2,713.0M440.1,717.8L436.3,716.0M436.3,716.0L434.8,714.4M436.3,716.0L433.4,715.6" stroke="#E8708A" stroke-width="0.45" fill="none" stroke-linecap="round"/>
<circle cx="445.6" cy="714" r="1.3" fill="#502030"/><circle cx="445.8" cy="721.5" r="1.3" fill="#502030"/>
<rect x="236.0" y="826.0" width="151.6" height="26.9" rx="12.9" fill="#D57A30"/><text x="311.8" y="846.0" font-size="20.6" fill="#111" text-anchor="middle">Other GABANs</text>
<text transform="translate(320.7,866.6) scale(1,1.16)" font-size="9.6" fill="#7744AA" text-anchor="middle">Sncg|CCK BC</text>
<text transform="translate(326.5,877.2) scale(1,1.16)" font-size="9.6" fill="#FF9933" text-anchor="middle">Sst|FS-like</text>
<line x1="308.8" y1="884.9" x2="348.3" y2="884.9" stroke="#D4D4D4" stroke-width="0.8" stroke-dasharray="2.2,2.2"/>
<line x1="308.8" y1="904.2" x2="348.3" y2="904.2" stroke="#D4D4D4" stroke-width="0.8" stroke-dasharray="2.2,2.2"/>
<line x1="308.8" y1="915.8" x2="348.3" y2="915.8" stroke="#D4D4D4" stroke-width="0.8" stroke-dasharray="2.2,2.2"/>
<line x1="308.8" y1="943.3" x2="348.3" y2="943.3" stroke="#D4D4D4" stroke-width="0.8" stroke-dasharray="2.2,2.2"/>
<rect x="307.8" y="878.5" width="41.5" height="89.2" fill="none" stroke="#222" stroke-width="1"/>
<path d="M328.5,893.8L328.6,890.5M328.6,890.5L329.3,889.2M329.3,889.2L329.8,888.9M329.3,889.2L329.5,888.2M328.6,890.5L328.2,888.7M328.2,888.7L328.1,887.5M328.2,888.7L327.6,888.3M328.5,893.8L330.5,890.9M330.5,890.9L332.0,889.3M332.0,889.3L333.0,889.4M332.0,889.3L332.5,888.3M330.5,890.9L331.0,888.6M331.0,888.6L331.8,887.7M331.0,888.6L330.9,887.0M328.5,893.8L330.9,893.4M330.9,893.4L332.1,893.8M332.1,893.8L332.7,894.5M332.1,893.8L332.7,893.9M330.9,893.4L331.9,892.4M331.9,892.4L332.6,892.1M331.9,892.4L332.1,891.3M328.5,893.8L330.8,893.8M330.8,893.8L332.3,894.6M332.3,894.6L332.8,895.8M332.3,894.6L333.2,894.3M330.8,893.8L332.0,893.0M332.0,893.0L332.8,893.0M332.0,893.0L332.5,892.2M328.5,893.8L329.9,897.0M329.9,897.0L330.4,898.7M330.4,898.7L330.5,899.7M330.4,898.7L330.8,899.4M329.9,897.0L330.8,898.2M330.8,898.2L331.0,899.0M330.8,898.2L331.6,898.6M328.5,893.8L328.7,897.3M328.7,897.3L328.0,899.1M328.0,899.1L327.2,899.7M328.0,899.1L327.7,900.3M328.7,897.3L329.2,899.4M329.2,899.4L329.1,900.5M329.2,899.4L329.7,900.2M328.5,893.8L327.2,896.6M327.2,896.6L326.0,898.0M326.0,898.0L325.3,898.4M326.0,898.0L325.6,899.2M327.2,896.6L327.0,898.6M327.0,898.6L326.3,899.6M327.0,898.6L327.2,899.8M328.5,893.8L326.3,894.7M326.3,894.7L325.2,894.7M325.2,894.7L324.6,894.2M325.2,894.7L324.7,895.1M326.3,894.7L325.3,895.8M325.3,895.8L324.6,895.9M325.3,895.8L324.9,896.5M328.5,893.8L326.4,893.5M326.4,893.5L325.1,892.8M325.1,892.8L324.7,892.1M325.1,892.8L324.5,892.8M326.4,893.5L325.3,894.4M325.3,894.4L324.5,894.7M325.3,894.4L324.8,894.8M328.5,893.8L327.8,889.9M327.8,889.9L328.0,888.0M328.0,888.0L328.5,887.0M328.0,888.0L327.7,887.0M327.8,889.9L326.4,888.6M326.4,888.6L325.7,887.3M326.4,888.6L325.4,888.0" stroke="#8844BB" stroke-width="0.6" fill="none" stroke-linecap="round"/>
<path d="M328.5,909.5L329.4,906.1M329.4,906.1L330.4,904.6M330.4,904.6L331.3,904.0M330.4,904.6L330.5,903.5M329.4,906.1L328.9,903.9M328.9,903.9L329.2,902.4M328.9,903.9L327.9,902.7M328.5,909.5L329.9,905.9M329.9,905.9L331.5,904.0M331.5,904.0L333.1,903.3M331.5,904.0L331.9,902.8M329.9,905.9L329.4,903.5M329.4,903.5L329.8,902.2M329.4,903.5L328.1,902.1M328.5,909.5L331.9,909.0M331.9,909.0L334.0,909.1M334.0,909.1L335.0,909.5M334.0,909.1L335.1,908.9M331.9,909.0L333.5,908.1M333.5,908.1L334.5,908.1M333.5,908.1L334.0,907.5M328.5,909.5L332.2,908.5M332.2,908.5L334.5,908.8M334.5,908.8L335.7,909.2M334.5,908.8L335.9,908.3M332.2,908.5L334.1,907.4M334.1,907.4L335.1,907.1M334.1,907.4L334.5,906.5M328.5,909.5L332.5,910.4M332.5,910.4L333.9,911.6M333.9,911.6L334.3,912.5M333.9,911.6L334.9,912.0M332.5,910.4L334.9,910.5M334.9,910.5L336.5,910.8M334.9,910.5L335.9,909.9M328.5,909.5L331.3,912.3M331.3,912.3L331.9,914.6M331.9,914.6L331.4,915.9M331.9,914.6L333.0,915.7M331.3,912.3L333.7,913.7M333.7,913.7L334.3,915.2M333.7,913.7L335.2,913.9M328.5,909.5L328.4,912.3M328.4,912.3L327.7,913.6M327.7,913.6L327.0,914.3M327.7,913.6L327.9,914.4M328.4,912.3L329.5,913.9M329.5,913.9L329.6,915.1M329.5,913.9L330.8,914.7M328.5,909.5L326.0,912.1M326.0,912.1L324.1,913.5M324.1,913.5L322.8,913.7M324.1,913.5L323.2,914.5M326.0,912.1L326.4,914.0M326.4,914.0L325.7,915.0M326.4,914.0L326.9,915.2M328.5,909.5L324.0,910.7M324.0,910.7L321.0,910.8M321.0,910.8L319.4,910.0M321.0,910.8L319.2,911.3M324.0,910.7L321.8,911.9M321.8,911.9L320.4,912.3M321.8,911.9L321.5,913.2M328.5,909.5L324.8,909.0M324.8,909.0L322.6,908.0M322.6,908.0L321.7,907.1M322.6,908.0L321.2,907.7M324.8,909.0L322.4,909.6M322.4,909.6L321.2,909.5M322.4,909.6L321.1,910.2M328.5,909.5L324.1,908.6M324.1,908.6L322.3,907.0M322.3,907.0L321.9,906.0M322.3,907.0L320.7,906.6M324.1,908.6L321.9,908.9M321.9,908.9L320.6,908.6M321.9,908.9L321.0,909.4M328.5,909.5L327.2,907.0M327.2,907.0L327.2,905.3M327.2,905.3L327.4,904.5M327.2,905.3L326.9,904.4M327.2,907.0L325.7,906.2M325.7,906.2L325.3,905.4M325.7,906.2L324.7,905.9" stroke="#FF9933" stroke-width="0.6" fill="none" stroke-linecap="round"/>
<path d="M328.5,909.5 L328.5,919.6" stroke="#FF9933" stroke-width="0.7"/>
<path d="M328.2,944.0L327.4,940.8M327.4,940.8L327.6,939.2M327.6,939.2L328.2,938.4M327.6,939.2L327.1,938.5M327.4,940.8L326.2,939.4M326.2,939.4L326.5,938.5M326.2,939.4L325.1,938.5M328.2,944.0L332.5,941.7M332.5,941.7L335.6,940.9M335.6,940.9L337.7,940.9M335.6,940.9L337.3,940.2M332.5,941.7L334.1,940.1M334.1,940.1L335.2,939.4M334.1,940.1L334.3,938.9M328.2,944.0L332.7,944.9M332.7,944.9L335.0,946.1M335.0,946.1L336.1,947.2M335.0,946.1L336.6,946.3M332.7,944.9L335.7,944.5M335.7,944.5L337.6,944.9M335.7,944.5L337.5,943.8M328.2,944.0L330.4,947.4M330.4,947.4L330.8,949.7M330.8,949.7L330.1,950.8M330.8,949.7L331.7,950.5M330.4,947.4L332.5,948.9M332.5,948.9L333.4,949.9M332.5,948.9L334.1,949.0M328.2,944.0L327.3,947.2M327.3,947.2L325.9,949.0M325.9,949.0L324.5,949.8M325.9,949.0L325.6,950.1M327.3,947.2L328.1,949.1M328.1,949.1L327.6,950.3M328.1,949.1L329.1,949.8M328.2,944.0L323.4,944.2M323.4,944.2L320.7,943.7M320.7,943.7L319.3,942.7M320.7,943.7L319.0,944.0M323.4,944.2L320.9,945.0M320.9,945.0L319.5,945.0M320.9,945.0L319.8,945.6M328.2,944.0L325.3,941.8M325.3,941.8L324.1,940.2M324.1,940.2L324.0,939.3M324.1,940.2L323.3,939.5M325.3,941.8L323.0,941.3M323.0,941.3L322.2,940.7M323.0,941.3L321.7,941.5" stroke="#B8B830" stroke-width="0.6" fill="none" stroke-linecap="round"/>
<path d="M324.0,952.0L325.4,956.4M325.4,956.4L325.8,959.1M325.8,959.1L325.7,961.0M325.8,959.1L326.5,960.3M325.4,956.4L327.1,957.6M327.1,957.6L327.9,958.9M327.1,957.6L328.2,957.9M324.0,952.0L324.0,957.2M324.0,957.2L322.9,959.5M322.9,959.5L322.0,960.4M322.9,959.5L322.6,961.3M324.0,957.2L324.9,960.1M324.9,960.1L324.9,962.1M324.9,960.1L326.0,961.0M324.0,952.0L322.9,956.6M322.9,956.6L321.5,958.3M321.5,958.3L320.2,958.9M321.5,958.3L320.8,959.9M322.9,956.6L323.0,959.6M323.0,959.6L322.7,961.1M323.0,959.6L323.4,961.5M324.0,952.0L326.8,954.3M326.8,954.3L327.9,956.8M327.9,956.8L328.1,958.4M327.9,956.8L329.0,958.0M326.8,954.3L328.4,954.1M328.4,954.1L329.2,954.4M328.4,954.1L329.2,953.6" stroke="#B8B830" stroke-width="0.6" fill="none" stroke-linecap="round"/>
<path d="M328.2,944 C322,951 316,955.7 309.3,955.7 C300,955.7 295,957 285.8,955.7 M309,950 L309,962" stroke="#B8B830" stroke-width="0.6" fill="none"/>
<circle cx="328.5" cy="893.8" r="1.4" fill="#221"/><circle cx="328.5" cy="909.5" r="1.4" fill="#221"/><circle cx="328.2" cy="944" r="1.4" fill="#221"/>
<text transform="translate(319.4,986.3) scale(1,1.16)" font-size="9.6" fill="#B0B030" text-anchor="middle">Sst Chodl|LPC</text>
<g stroke="#EBEBEB" stroke-width="2.1">
<line x1="743.1" y1="283.80" x2="1020.0" y2="283.80"/>
<line x1="743.1" y1="308.65" x2="1020.0" y2="308.65"/>
<line x1="743.1" y1="333.50" x2="1020.0" y2="333.50"/>
<line x1="743.1" y1="358.35" x2="1020.0" y2="358.35"/>
<line x1="743.1" y1="383.20" x2="1020.0" y2="383.20"/>
<line x1="743.1" y1="408.05" x2="1020.0" y2="408.05"/>
<line x1="743.1" y1="432.90" x2="1020.0" y2="432.90"/>
<line x1="743.1" y1="457.75" x2="1020.0" y2="457.75"/>
<line x1="743.1" y1="482.60" x2="1020.0" y2="482.60"/>
<line x1="743.1" y1="507.45" x2="1020.0" y2="507.45"/>
<line x1="743.1" y1="532.30" x2="1020.0" y2="532.30"/>
<line x1="743.1" y1="557.15" x2="1020.0" y2="557.15"/>
<line x1="743.1" y1="582.00" x2="1020.0" y2="582.00"/>
<line x1="743.1" y1="606.85" x2="1020.0" y2="606.85"/>
<line x1="743.1" y1="631.70" x2="1020.0" y2="631.70"/>
<line x1="743.1" y1="656.55" x2="1020.0" y2="656.55"/>
<line x1="743.1" y1="681.40" x2="1020.0" y2="681.40"/>
<line x1="743.1" y1="706.25" x2="1020.0" y2="706.25"/>
<line x1="743.1" y1="731.10" x2="1020.0" y2="731.10"/>
<line x1="743.1" y1="755.95" x2="1020.0" y2="755.95"/>
<line x1="743.1" y1="780.80" x2="1020.0" y2="780.80"/>
<line x1="743.1" y1="805.65" x2="1020.0" y2="805.65"/>
<line x1="743.1" y1="830.50" x2="1020.0" y2="830.50"/>
<line x1="743.1" y1="855.35" x2="1020.0" y2="855.35"/>
<line x1="743.1" y1="880.20" x2="1020.0" y2="880.20"/>
<line x1="743.1" y1="905.05" x2="1020.0" y2="905.05"/>
<line x1="743.1" y1="929.90" x2="1020.0" y2="929.90"/>
<line x1="755.40" y1="269.3" x2="755.40" y2="944.8"/>
<line x1="776.78" y1="269.3" x2="776.78" y2="944.8"/>
<line x1="798.16" y1="269.3" x2="798.16" y2="944.8"/>
<line x1="819.54" y1="269.3" x2="819.54" y2="944.8"/>
<line x1="840.92" y1="269.3" x2="840.92" y2="944.8"/>
<line x1="862.30" y1="269.3" x2="862.30" y2="944.8"/>
<line x1="883.68" y1="269.3" x2="883.68" y2="944.8"/>
<line x1="905.06" y1="269.3" x2="905.06" y2="944.8"/>
<line x1="926.44" y1="269.3" x2="926.44" y2="944.8"/>
<line x1="947.82" y1="269.3" x2="947.82" y2="944.8"/>
<line x1="969.20" y1="269.3" x2="969.20" y2="944.8"/>
<line x1="991.20" y1="269.3" x2="991.20" y2="944.8"/>
</g>
<g stroke="#000" stroke-width="1.6">
<circle cx="840.92" cy="283.80" r="1.2" fill="#000" stroke="none"/>
<ellipse cx="862.30" cy="284.10" rx="2.74" ry="2.89" fill="#00008E"/>
<ellipse cx="883.68" cy="284.10" rx="3.36" ry="3.54" fill="#00008E"/>
<ellipse cx="905.06" cy="284.10" rx="3.88" ry="4.09" fill="#00008E"/>
<ellipse cx="926.44" cy="284.10" rx="6.58" ry="6.95" fill="#00008E"/>
<ellipse cx="947.82" cy="284.10" rx="6.69" ry="7.06" fill="#00008E"/>
<ellipse cx="969.20" cy="284.10" rx="7.83" ry="8.26" fill="#1E88F0"/>
<ellipse cx="991.20" cy="284.10" rx="10.02" ry="10.57" fill="#FF5000"/>
<circle cx="840.92" cy="308.65" r="1.2" fill="#000" stroke="none"/>
<circle cx="862.30" cy="308.65" r="1.2" fill="#000" stroke="none"/>
<circle cx="883.68" cy="308.65" r="1.2" fill="#000" stroke="none"/>
<ellipse cx="905.06" cy="308.95" rx="4.19" ry="4.42" fill="#00008E"/>
<ellipse cx="926.44" cy="308.95" rx="7.83" ry="8.26" fill="#1A5AC8"/>
<ellipse cx="947.82" cy="308.95" rx="7.83" ry="8.26" fill="#1A60D0"/>
<ellipse cx="969.20" cy="308.95" rx="8.46" ry="8.92" fill="#6AAAE8"/>
<ellipse cx="991.20" cy="308.95" rx="10.02" ry="10.57" fill="#FF6000"/>
<ellipse cx="883.68" cy="333.80" rx="3.88" ry="4.09" fill="#00008E"/>
<ellipse cx="905.06" cy="333.80" rx="4.61" ry="4.86" fill="#00008E"/>
<ellipse cx="926.44" cy="333.80" rx="7.21" ry="7.60" fill="#0A1A9A"/>
<ellipse cx="947.82" cy="333.80" rx="7.83" ry="8.26" fill="#1A58C8"/>
<ellipse cx="969.20" cy="333.80" rx="7.21" ry="7.60" fill="#0A2AA0"/>
<ellipse cx="991.20" cy="333.80" rx="10.02" ry="10.57" fill="#FF4800"/>
<circle cx="840.92" cy="358.35" r="1.2" fill="#000" stroke="none"/>
<circle cx="862.30" cy="358.35" r="1.2" fill="#000" stroke="none"/>
<ellipse cx="883.68" cy="358.65" rx="4.61" ry="4.86" fill="#00008E"/>
<ellipse cx="905.06" cy="358.65" rx="5.02" ry="5.30" fill="#00008E"/>
<ellipse cx="926.44" cy="358.65" rx="7.52" ry="7.93" fill="#1A5CD0"/>
<ellipse cx="947.82" cy="358.65" rx="8.98" ry="9.47" fill="#C8C8CA"/>
<ellipse cx="969.20" cy="358.65" rx="8.04" ry="8.48" fill="#2196F3"/>
<ellipse cx="991.20" cy="358.65" rx="9.91" ry="10.46" fill="#FF7000"/>
<circle cx="819.54" cy="383.20" r="1.2" fill="#000" stroke="none"/>
<circle cx="840.92" cy="383.20" r="1.2" fill="#000" stroke="none"/>
<circle cx="862.30" cy="383.20" r="1.2" fill="#000" stroke="none"/>
<ellipse cx="883.68" cy="383.50" rx="4.09" ry="4.31" fill="#00008E"/>
<ellipse cx="905.06" cy="383.50" rx="4.61" ry="4.86" fill="#00008E"/>
<ellipse cx="926.44" cy="383.50" rx="7.42" ry="7.82" fill="#0A1E9E"/>
<ellipse cx="947.82" cy="383.50" rx="7.52" ry="7.93" fill="#1A66D8"/>
<ellipse cx="969.20" cy="383.50" rx="7.73" ry="8.15" fill="#2090F0"/>
<ellipse cx="991.20" cy="383.50" rx="9.50" ry="10.02" fill="#FF7800"/>
<circle cx="819.54" cy="408.05" r="1.2" fill="#000" stroke="none"/>
<ellipse cx="840.92" cy="408.35" rx="2.53" ry="2.67" fill="#00008E"/>
<ellipse cx="862.30" cy="408.35" rx="3.67" ry="3.87" fill="#00008E"/>
<ellipse cx="883.68" cy="408.35" rx="5.02" ry="5.30" fill="#00008E"/>
<ellipse cx="905.06" cy="408.35" rx="3.26" ry="3.44" fill="#00008E"/>
<ellipse cx="947.82" cy="408.35" rx="7.73" ry="8.15" fill="#5AA5EC"/>
<ellipse cx="969.20" cy="408.35" rx="8.35" ry="8.81" fill="#8AB4E0"/>
<ellipse cx="991.20" cy="408.35" rx="9.91" ry="10.46" fill="#FF5500"/>
<circle cx="798.16" cy="432.90" r="1.2" fill="#000" stroke="none"/>
<ellipse cx="819.54" cy="433.20" rx="4.40" ry="4.64" fill="#00008E"/>
<ellipse cx="840.92" cy="433.20" rx="2.84" ry="3.00" fill="#00008E"/>
<ellipse cx="862.30" cy="433.20" rx="3.98" ry="4.20" fill="#00008E"/>
<ellipse cx="883.68" cy="433.20" rx="3.98" ry="4.20" fill="#00008E"/>
<ellipse cx="905.06" cy="433.20" rx="4.61" ry="4.86" fill="#00008E"/>
<ellipse cx="926.44" cy="433.20" rx="8.04" ry="8.48" fill="#0A30A8"/>
<ellipse cx="947.82" cy="433.20" rx="7.31" ry="7.71" fill="#0A2AA0"/>
<ellipse cx="969.20" cy="433.20" rx="7.10" ry="7.49" fill="#1040B0"/>
<ellipse cx="991.20" cy="433.20" rx="9.60" ry="10.13" fill="#FF8000"/>
<ellipse cx="862.30" cy="458.05" rx="5.75" ry="6.07" fill="#00008E"/>
<ellipse cx="883.68" cy="458.05" rx="4.82" ry="5.08" fill="#00008E"/>
<ellipse cx="905.06" cy="458.05" rx="5.96" ry="6.29" fill="#00008E"/>
<ellipse cx="926.44" cy="458.05" rx="9.18" ry="9.69" fill="#FFA514"/>
<ellipse cx="947.82" cy="458.05" rx="9.18" ry="9.69" fill="#E2BC7A"/>
<ellipse cx="969.20" cy="458.05" rx="8.87" ry="9.36" fill="#E8B458"/>
<ellipse cx="991.20" cy="458.05" rx="9.60" ry="10.13" fill="#FF8C00"/>
<circle cx="755.40" cy="482.60" r="1.2" fill="#000" stroke="none"/>
<circle cx="776.78" cy="482.60" r="1.2" fill="#000" stroke="none"/>
<circle cx="798.16" cy="482.60" r="1.2" fill="#000" stroke="none"/>
<circle cx="819.54" cy="482.60" r="1.2" fill="#000" stroke="none"/>
<circle cx="840.92" cy="482.60" r="1.2" fill="#000" stroke="none"/>
<circle cx="883.68" cy="482.60" r="1.2" fill="#000" stroke="none"/>
<circle cx="905.06" cy="482.60" r="1.2" fill="#000" stroke="none"/>
<ellipse cx="926.44" cy="482.90" rx="4.61" ry="4.86" fill="#00008E"/>
<ellipse cx="947.82" cy="482.90" rx="5.44" ry="5.74" fill="#00008E"/>
<ellipse cx="969.20" cy="482.90" rx="4.30" ry="4.53" fill="#00008E"/>
<circle cx="991.20" cy="482.60" r="1.2" fill="#000" stroke="none"/>
<circle cx="840.92" cy="507.45" r="1.2" fill="#000" stroke="none"/>
<circle cx="883.68" cy="507.45" r="1.2" fill="#000" stroke="none"/>
<ellipse cx="905.06" cy="507.75" rx="4.19" ry="4.42" fill="#00008E"/>
<ellipse cx="926.44" cy="507.75" rx="8.25" ry="8.70" fill="#2094F8"/>
<ellipse cx="947.82" cy="507.75" rx="8.25" ry="8.70" fill="#2094F8"/>
<ellipse cx="969.20" cy="507.75" rx="8.66" ry="9.14" fill="#AAC0DC"/>
<ellipse cx="991.20" cy="507.75" rx="9.18" ry="9.69" fill="#FF8000"/>
<ellipse cx="905.06" cy="532.60" rx="3.67" ry="3.87" fill="#00008E"/>
<ellipse cx="926.44" cy="532.60" rx="7.31" ry="7.71" fill="#0A1A9A"/>
<ellipse cx="947.82" cy="532.60" rx="7.31" ry="7.71" fill="#0A34AA"/>
<ellipse cx="969.20" cy="532.60" rx="8.46" ry="8.92" fill="#9ABCDC"/>
<ellipse cx="991.20" cy="532.60" rx="9.60" ry="10.13" fill="#FF8C00"/>
<circle cx="905.06" cy="557.15" r="1.2" fill="#000" stroke="none"/>
<ellipse cx="926.44" cy="557.45" rx="5.96" ry="6.29" fill="#00008E"/>
<ellipse cx="947.82" cy="557.45" rx="5.96" ry="6.29" fill="#00008E"/>
<ellipse cx="969.20" cy="557.45" rx="7.83" ry="8.26" fill="#1A6AE0"/>
<ellipse cx="991.20" cy="557.45" rx="9.39" ry="9.91" fill="#FF7800"/>
<circle cx="776.78" cy="582.00" r="1.2" fill="#000" stroke="none"/>
<circle cx="798.16" cy="582.00" r="1.2" fill="#000" stroke="none"/>
<circle cx="819.54" cy="582.00" r="1.2" fill="#000" stroke="none"/>
<circle cx="840.92" cy="582.00" r="1.2" fill="#000" stroke="none"/>
<ellipse cx="969.20" cy="582.30" rx="7.83" ry="8.26" fill="#1448C0"/>
<ellipse cx="991.20" cy="582.30" rx="9.60" ry="10.13" fill="#FF8000"/>
<ellipse cx="776.78" cy="607.15" rx="6.48" ry="6.84" fill="#00008E"/>
<ellipse cx="798.16" cy="607.15" rx="4.82" ry="5.08" fill="#00008E"/>
<circle cx="819.54" cy="606.85" r="1.2" fill="#000" stroke="none"/>
<circle cx="840.92" cy="606.85" r="1.2" fill="#000" stroke="none"/>
<circle cx="862.30" cy="606.85" r="1.2" fill="#000" stroke="none"/>
<circle cx="883.68" cy="606.85" r="1.2" fill="#000" stroke="none"/>
<circle cx="905.06" cy="606.85" r="1.2" fill="#000" stroke="none"/>
<ellipse cx="926.44" cy="607.15" rx="5.75" ry="6.07" fill="#00008E"/>
<ellipse cx="947.82" cy="607.15" rx="5.34" ry="5.63" fill="#00008E"/>
<ellipse cx="969.20" cy="607.15" rx="5.96" ry="6.29" fill="#00008E"/>
<ellipse cx="991.20" cy="607.15" rx="9.60" ry="10.13" fill="#FF8400"/>
<circle cx="776.78" cy="631.70" r="1.2" fill="#000" stroke="none"/>
<circle cx="798.16" cy="631.70" r="1.2" fill="#000" stroke="none"/>
<ellipse cx="840.92" cy="632.00" rx="4.61" ry="4.86" fill="#00008E"/>
<circle cx="862.30" cy="631.70" r="1.2" fill="#000" stroke="none"/>
<circle cx="883.68" cy="631.70" r="1.2" fill="#000" stroke="none"/>
<circle cx="905.06" cy="631.70" r="1.2" fill="#000" stroke="none"/>
<ellipse cx="926.44" cy="632.00" rx="5.75" ry="6.07" fill="#00008E"/>
<ellipse cx="947.82" cy="632.00" rx="6.69" ry="7.06" fill="#00008E"/>
<ellipse cx="969.20" cy="632.00" rx="7.31" ry="7.71" fill="#1448C0"/>
<ellipse cx="991.20" cy="632.00" rx="9.60" ry="10.13" fill="#FF8000"/>
<circle cx="776.78" cy="656.55" r="1.2" fill="#000" stroke="none"/>
<circle cx="798.16" cy="656.55" r="1.2" fill="#000" stroke="none"/>
<circle cx="840.92" cy="656.55" r="1.2" fill="#000" stroke="none"/>
<circle cx="862.30" cy="656.55" r="1.2" fill="#000" stroke="none"/>
<circle cx="883.68" cy="656.55" r="1.2" fill="#000" stroke="none"/>
<ellipse cx="905.06" cy="656.85" rx="3.26" ry="3.44" fill="#00008E"/>
<ellipse cx="926.44" cy="656.85" rx="6.90" ry="7.28" fill="#00008E"/>
<ellipse cx="947.82" cy="656.85" rx="6.48" ry="6.84" fill="#00008E"/>
<ellipse cx="969.20" cy="656.85" rx="7.83" ry="8.26" fill="#3A9CF4"/>
<ellipse cx="905.06" cy="681.70" rx="6.69" ry="7.06" fill="#00008E"/>
<ellipse cx="926.44" cy="681.70" rx="9.39" ry="9.91" fill="#FF6A00"/>
<ellipse cx="947.82" cy="681.70" rx="8.25" ry="8.70" fill="#96B8DC"/>
<ellipse cx="969.20" cy="681.70" rx="8.66" ry="9.14" fill="#FFA50A"/>
<ellipse cx="991.20" cy="681.70" rx="9.60" ry="10.13" fill="#FF6400"/>
<ellipse cx="905.06" cy="706.55" rx="6.69" ry="7.06" fill="#1448C0"/>
<ellipse cx="926.44" cy="706.55" rx="8.87" ry="9.36" fill="#FF8A00"/>
<ellipse cx="947.82" cy="706.55" rx="8.87" ry="9.36" fill="#FFA814"/>
<ellipse cx="969.20" cy="706.55" rx="8.46" ry="8.92" fill="#FF9400"/>
<ellipse cx="991.20" cy="706.55" rx="9.60" ry="10.13" fill="#FF6400"/>
<ellipse cx="776.78" cy="731.40" rx="5.75" ry="6.07" fill="#00008E"/>
<ellipse cx="798.16" cy="731.40" rx="4.82" ry="5.08" fill="#00008E"/>
<ellipse cx="819.54" cy="731.40" rx="4.19" ry="4.42" fill="#00008E"/>
<ellipse cx="840.92" cy="731.40" rx="4.19" ry="4.42" fill="#00008E"/>
<ellipse cx="862.30" cy="731.40" rx="6.17" ry="6.51" fill="#00008E"/>
<ellipse cx="883.68" cy="731.40" rx="5.54" ry="5.85" fill="#00008E"/>
<ellipse cx="905.06" cy="731.40" rx="5.54" ry="5.85" fill="#00008E"/>
<ellipse cx="926.44" cy="731.40" rx="9.39" ry="9.91" fill="#FF7200"/>
<ellipse cx="947.82" cy="731.40" rx="9.18" ry="9.69" fill="#F5AC2C"/>
<ellipse cx="969.20" cy="731.40" rx="8.46" ry="8.92" fill="#C4CAD2"/>
<ellipse cx="991.20" cy="731.40" rx="9.60" ry="10.13" fill="#FF6A00"/>
<circle cx="798.16" cy="755.95" r="1.2" fill="#000" stroke="none"/>
<circle cx="905.06" cy="755.95" r="1.2" fill="#000" stroke="none"/>
<ellipse cx="926.44" cy="756.25" rx="9.18" ry="9.69" fill="#FFA614"/>
<ellipse cx="947.82" cy="756.25" rx="9.18" ry="9.69" fill="#DEC08A"/>
<ellipse cx="969.20" cy="756.25" rx="8.25" ry="8.70" fill="#2090F0"/>
<ellipse cx="991.20" cy="756.25" rx="9.60" ry="10.13" fill="#FF6A00"/>
<ellipse cx="776.78" cy="781.10" rx="4.40" ry="4.64" fill="#00008E"/>
<ellipse cx="798.16" cy="781.10" rx="3.05" ry="3.22" fill="#00008E"/>
<ellipse cx="819.54" cy="781.10" rx="4.19" ry="4.42" fill="#00008E"/>
<ellipse cx="840.92" cy="781.10" rx="3.67" ry="3.87" fill="#00008E"/>
<circle cx="862.30" cy="780.80" r="1.2" fill="#000" stroke="none"/>
<ellipse cx="883.68" cy="781.10" rx="2.63" ry="2.78" fill="#00008E"/>
<ellipse cx="905.06" cy="781.10" rx="5.13" ry="5.41" fill="#00008E"/>
<ellipse cx="926.44" cy="781.10" rx="6.69" ry="7.06" fill="#00008E"/>
<ellipse cx="947.82" cy="781.10" rx="6.17" ry="6.51" fill="#00008E"/>
<ellipse cx="969.20" cy="781.10" rx="5.75" ry="6.07" fill="#00008E"/>
<ellipse cx="991.20" cy="781.10" rx="9.60" ry="10.13" fill="#FF7400"/>
<ellipse cx="776.78" cy="805.95" rx="3.67" ry="3.87" fill="#00008E"/>
<ellipse cx="798.16" cy="805.95" rx="3.05" ry="3.22" fill="#00008E"/>
<ellipse cx="819.54" cy="805.95" rx="4.19" ry="4.42" fill="#00008E"/>
<ellipse cx="840.92" cy="805.95" rx="2.63" ry="2.78" fill="#00008E"/>
<ellipse cx="862.30" cy="805.95" rx="4.82" ry="5.08" fill="#00008E"/>
<ellipse cx="883.68" cy="805.95" rx="3.67" ry="3.87" fill="#00008E"/>
<ellipse cx="905.06" cy="805.95" rx="5.54" ry="5.85" fill="#00008E"/>
<ellipse cx="926.44" cy="805.95" rx="7.10" ry="7.49" fill="#0A1A9A"/>
<ellipse cx="947.82" cy="805.95" rx="6.48" ry="6.84" fill="#00008E"/>
<ellipse cx="969.20" cy="805.95" rx="7.10" ry="7.49" fill="#1038B0"/>
<ellipse cx="991.20" cy="805.95" rx="9.60" ry="10.13" fill="#FF8000"/>
<ellipse cx="776.78" cy="830.80" rx="4.61" ry="4.86" fill="#00008E"/>
<ellipse cx="798.16" cy="830.80" rx="3.67" ry="3.87" fill="#00008E"/>
<ellipse cx="819.54" cy="830.80" rx="4.19" ry="4.42" fill="#00008E"/>
<circle cx="840.92" cy="830.50" r="1.2" fill="#000" stroke="none"/>
<ellipse cx="862.30" cy="830.80" rx="5.34" ry="5.63" fill="#00008E"/>
<ellipse cx="883.68" cy="830.80" rx="4.19" ry="4.42" fill="#00008E"/>
<circle cx="905.06" cy="830.50" r="1.2" fill="#000" stroke="none"/>
<ellipse cx="926.44" cy="830.80" rx="8.04" ry="8.48" fill="#5AA4EC"/>
<ellipse cx="947.82" cy="830.80" rx="8.25" ry="8.70" fill="#96B8DC"/>
<ellipse cx="969.20" cy="830.80" rx="8.25" ry="8.70" fill="#96B8DC"/>
<ellipse cx="991.20" cy="830.80" rx="9.60" ry="10.13" fill="#FF8000"/>
<ellipse cx="991.20" cy="855.65" rx="9.60" ry="10.13" fill="#FF8000"/>
<circle cx="840.92" cy="880.20" r="1.2" fill="#000" stroke="none"/>
<ellipse cx="883.68" cy="880.50" rx="4.82" ry="5.08" fill="#00008E"/>
<ellipse cx="905.06" cy="880.50" rx="3.67" ry="3.87" fill="#00008E"/>
<ellipse cx="926.44" cy="880.50" rx="7.52" ry="7.93" fill="#1A5CD0"/>
<ellipse cx="947.82" cy="880.50" rx="8.04" ry="8.48" fill="#3A9CF4"/>
<ellipse cx="969.20" cy="880.50" rx="8.87" ry="9.36" fill="#E8B860"/>
<ellipse cx="991.20" cy="880.50" rx="9.60" ry="10.13" fill="#FF8C00"/>
<ellipse cx="991.20" cy="905.35" rx="9.60" ry="10.13" fill="#FF6E00"/>
<ellipse cx="776.78" cy="930.20" rx="3.67" ry="3.87" fill="#00008E"/>
<ellipse cx="798.16" cy="930.20" rx="3.98" ry="4.20" fill="#00008E"/>
<ellipse cx="819.54" cy="930.20" rx="3.98" ry="4.20" fill="#00008E"/>
<ellipse cx="840.92" cy="930.20" rx="3.98" ry="4.20" fill="#00008E"/>
<ellipse cx="862.30" cy="930.20" rx="4.82" ry="5.08" fill="#00008E"/>
<ellipse cx="883.68" cy="930.20" rx="4.82" ry="5.08" fill="#00008E"/>
<ellipse cx="905.06" cy="930.20" rx="5.34" ry="5.63" fill="#00008E"/>
<ellipse cx="926.44" cy="930.20" rx="8.46" ry="8.92" fill="#8AB4E0"/>
<ellipse cx="947.82" cy="930.20" rx="7.31" ry="7.71" fill="#1448C0"/>
<ellipse cx="969.20" cy="930.20" rx="8.04" ry="8.48" fill="#5AA4EC"/>
<ellipse cx="991.20" cy="930.20" rx="9.60" ry="10.13" fill="#FF8C00"/>
<circle cx="947.82" cy="482.60" r="1.1" fill="#000" stroke="none"/>
</g>
<rect x="743.1" y="269.3" width="276.9" height="675.5" fill="none" stroke="#333" stroke-width="2"/>
<g font-size="15.5" fill="#1a1a1a" text-anchor="end">
<text transform="translate(739.2,289.60) scale(1,1.08)">L2/3 IT</text>
<text transform="translate(739.2,314.45) scale(1,1.08)">L4 IT|SSC</text>
<text transform="translate(739.2,339.30) scale(1,1.08)">L4/5 IT|PC</text>
<text transform="translate(739.2,364.15) scale(1,1.08)">L5 IT</text>
<text transform="translate(739.2,389.00) scale(1,1.08)">L6 IT</text>
<text transform="translate(739.2,413.85) scale(1,1.08)">L5 PT</text>
<text transform="translate(739.2,438.70) scale(1,1.08)">L6 CT</text>
<text transform="translate(739.2,463.55) scale(1,1.08)">L6b</text>
<text transform="translate(739.2,488.40) scale(1,1.08)">CR</text>
<text transform="translate(739.2,513.25) scale(1,1.08)">L5/6 NP</text>
<text transform="translate(739.2,538.10) scale(1,1.08)">Car3|Claustrum−like</text>
<text transform="translate(739.2,562.95) scale(1,1.08)">Lamp5|L1 A7C/CNC</text>
<text transform="translate(739.2,587.80) scale(1,1.08)">Lamp5|L1−L5 NGC</text>
<text transform="translate(739.2,612.65) scale(1,1.08)">Vip|L2/3−L4 BP/BTC</text>
<text transform="translate(739.2,637.50) scale(1,1.08)">Vip|Uncharacterized</text>
<text transform="translate(739.2,662.35) scale(1,1.08)">Vip|L2/3−L5 BP/BTC</text>
<text transform="translate(739.2,687.20) scale(1,1.08)">Sst|L2/3−L5 fan−MC</text>
<text transform="translate(739.2,712.05) scale(1,1.08)">Sst|L4 IVC</text>
<text transform="translate(739.2,736.90) scale(1,1.08)">Sst|L5 T−MC</text>
<text transform="translate(739.2,761.75) scale(1,1.08)">Sst|L5/L6 NMC</text>
<text transform="translate(739.2,786.60) scale(1,1.08)">Pvalb|L2/3 CHC</text>
<text transform="translate(739.2,811.45) scale(1,1.08)">Pvalb|L2/3−L4 FS BC</text>
<text transform="translate(739.2,836.30) scale(1,1.08)">Pvalb|L4/5 FS BC</text>
<text transform="translate(739.2,861.15) scale(1,1.08)">Pvalb|L5/6 FS BC</text>
<text transform="translate(739.2,886.00) scale(1,1.08)">Sncg|CCK BC</text>
<text transform="translate(739.2,910.85) scale(1,1.08)">Sst|FS−like</text>
<text transform="translate(739.2,935.70) scale(1,1.08)">Sst Chodl|LPC</text>
</g>
<g font-size="16.5" fill="#1a1a1a" text-anchor="end">
<text transform="translate(763.70,957.7) rotate(-45)">E11.5</text>
<text transform="translate(785.08,957.7) rotate(-45)">E12.5</text>
<text transform="translate(806.46,957.7) rotate(-45)">E13.5</text>
<text transform="translate(827.84,957.7) rotate(-45)">E14.5</text>
<text transform="translate(849.22,957.7) rotate(-45)">E15.5</text>
<text transform="translate(870.60,957.7) rotate(-45)">E16.5</text>
<text transform="translate(891.98,957.7) rotate(-45)">E17.5</text>
<text transform="translate(913.36,957.7) rotate(-45)">E18.5</text>
<text transform="translate(934.74,957.7) rotate(-45)">P0</text>
<text transform="translate(956.12,957.7) rotate(-45)">P2</text>
<text transform="translate(977.50,957.7) rotate(-45)">P5</text>
<text transform="translate(999.50,957.7) rotate(-45)">Adult</text>
</g>
<text x="871.2" y="1006" font-size="20" text-anchor="middle" fill="#000">Age</text>
<text transform="translate(581.8,607) rotate(-90)" font-size="20.6" text-anchor="middle" fill="#000">celltype</text>
<text transform="translate(1047.2,293.6) scale(1,1.06)" font-size="15.9" fill="#000">Detection rate (%)</text>
<circle cx="1060.5" cy="314.4" r="1.05" fill="#000"/>
<circle cx="1060.5" cy="334.2" r="6.40" fill="none" stroke="#000" stroke-width="1.6"/>
<circle cx="1060.5" cy="355.9" r="7.90" fill="none" stroke="#000" stroke-width="1.6"/>
<circle cx="1060.5" cy="378.9" r="8.70" fill="none" stroke="#000" stroke-width="1.6"/>
<circle cx="1060.5" cy="404.7" r="9.50" fill="none" stroke="#000" stroke-width="1.6"/>
<text transform="translate(1081.5,319.2) scale(1,1.17)" font-size="13" fill="#000">0</text>
<text transform="translate(1081.5,340.0) scale(1,1.17)" font-size="13" fill="#000">25</text>
<text transform="translate(1081.5,361.2) scale(1,1.17)" font-size="13" fill="#000">50</text>
<text transform="translate(1081.5,384.4) scale(1,1.17)" font-size="13" fill="#000">75</text>
<text transform="translate(1081.5,409.4) scale(1,1.17)" font-size="13" fill="#000">100</text>
<text transform="translate(1041.4,445.7) scale(1,1.04)" font-size="13.5" fill="#000">25% tmean log2(CPM + 1)</text>
<defs><linearGradient id="cbar" x1="0" y1="1" x2="0" y2="0"><stop offset="0" stop-color="#000080"/><stop offset="0.25" stop-color="#1E90FF"/><stop offset="0.5" stop-color="#D3D3D3"/><stop offset="0.75" stop-color="#FFA500"/><stop offset="1" stop-color="#FF4500"/></linearGradient></defs>
<rect x="1041.1" y="456.6" width="19.3" height="105.6" fill="url(#cbar)"/>
<g stroke="#fff" stroke-width="1">
<line x1="1041.1" y1="562.2" x2="1045" y2="562.2"/><line x1="1056.5" y1="562.2" x2="1060.4" y2="562.2"/>
<line x1="1041.1" y1="538.6" x2="1045" y2="538.6"/><line x1="1056.5" y1="538.6" x2="1060.4" y2="538.6"/>
<line x1="1041.1" y1="515.0" x2="1045" y2="515.0"/><line x1="1056.5" y1="515.0" x2="1060.4" y2="515.0"/>
<line x1="1041.1" y1="491.4" x2="1045" y2="491.4"/><line x1="1056.5" y1="491.4" x2="1060.4" y2="491.4"/>
<line x1="1041.1" y1="467.8" x2="1045" y2="467.8"/><line x1="1056.5" y1="467.8" x2="1060.4" y2="467.8"/>
</g>
<text transform="translate(1068.3,567.8) scale(1,1.2)" font-size="13.4" fill="#000">0</text>
<text transform="translate(1068.3,544.2) scale(1,1.2)" font-size="13.4" fill="#000">2</text>
<text transform="translate(1068.3,520.6) scale(1,1.2)" font-size="13.4" fill="#000">4</text>
<text transform="translate(1068.3,497.0) scale(1,1.2)" font-size="13.4" fill="#000">6</text>
<text transform="translate(1068.3,473.4) scale(1,1.2)" font-size="13.4" fill="#000">8</text>
</svg>
</body></html>
